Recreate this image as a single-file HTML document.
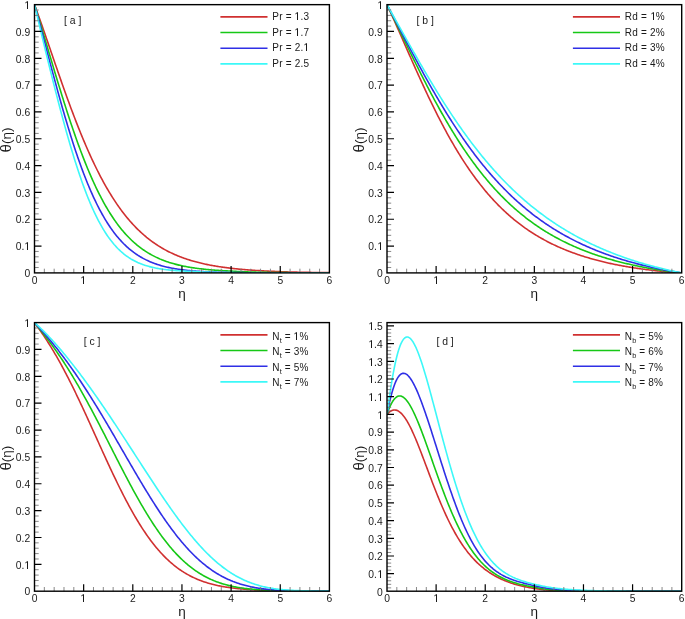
<!DOCTYPE html>
<html><head><meta charset="utf-8"><style>
html,body{margin:0;padding:0;background:#fff;}
svg{display:block;}
text{font-family:"Liberation Sans", sans-serif;fill:#1a1a1a;}
.t{font-size:10.3px;}
.lg{font-size:10px;letter-spacing:0.2px;}
.sub{font-size:7.4px;letter-spacing:0;}
.pl{font-size:10.4px;}
.ax{font-size:13.5px;}
.o1{fill:none;}
</style></head><body>
<svg width="685" height="619" viewBox="0 0 685 619" style="will-change:transform">
<rect width="685" height="619" fill="#fff"/>
<clipPath id="clipA"><rect x="34.5" y="4.65" width="294.9" height="268.25"/></clipPath>
<polyline clip-path="url(#clipA)" points="34.50,4.65 35.48,7.32 36.47,10.01 37.45,12.73 38.43,15.47 39.41,18.22 40.40,20.99 41.38,23.78 42.36,26.59 43.35,29.40 44.33,32.23 45.31,35.07 46.30,37.91 47.28,40.77 48.26,43.62 49.24,46.48 50.23,49.35 51.21,52.21 52.19,55.07 53.18,57.94 54.16,60.80 55.14,63.65 56.13,66.50 57.11,69.34 58.09,72.18 59.08,75.01 60.06,77.82 61.04,80.63 62.02,83.43 63.01,86.21 63.99,88.98 64.97,91.73 65.96,94.47 66.94,97.19 67.92,99.90 68.91,102.59 69.89,105.26 70.87,107.91 71.85,110.54 72.84,113.15 73.82,115.74 74.80,118.30 75.79,120.85 76.77,123.37 77.75,125.87 78.73,128.35 79.72,130.80 80.70,133.23 81.68,135.63 82.67,138.01 83.65,140.36 84.63,142.68 85.62,144.99 86.60,147.26 87.58,149.51 88.56,151.73 89.55,153.92 90.53,156.09 91.51,158.23 92.50,160.34 93.48,162.43 94.46,164.49 95.45,166.52 96.43,168.52 97.41,170.49 98.40,172.44 99.38,174.36 100.36,176.26 101.34,178.12 102.33,179.96 103.31,181.77 104.29,183.56 105.28,185.31 106.26,187.04 107.24,188.75 108.22,190.42 109.21,192.07 110.19,193.70 111.17,195.29 112.16,196.86 113.14,198.41 114.12,199.93 115.11,201.42 116.09,202.89 117.07,204.33 118.05,205.75 119.04,207.15 120.02,208.52 121.00,209.86 121.99,211.19 122.97,212.48 123.95,213.76 124.94,215.01 125.92,216.24 126.90,217.45 127.88,218.63 128.87,219.79 129.85,220.93 130.83,222.05 131.82,223.15 132.80,224.23 133.78,225.28 134.77,226.32 135.75,227.34 136.73,228.33 137.71,229.31 138.70,230.27 139.68,231.20 140.66,232.12 141.65,233.03 142.63,233.91 143.61,234.77 144.60,235.62 145.58,236.45 146.56,237.27 147.55,238.06 148.53,238.85 149.51,239.61 150.49,240.36 151.48,241.09 152.46,241.81 153.44,242.51 154.43,243.20 155.41,243.87 156.39,244.53 157.38,245.18 158.36,245.81 159.34,246.43 160.32,247.03 161.31,247.63 162.29,248.20 163.27,248.77 164.26,249.33 165.24,249.87 166.22,250.40 167.21,250.92 168.19,251.42 169.17,251.92 170.15,252.40 171.14,252.88 172.12,253.34 173.10,253.80 174.09,254.24 175.07,254.67 176.05,255.10 177.03,255.51 178.02,255.92 179.00,256.31 179.98,256.70 180.97,257.08 181.95,257.45 182.93,257.81 183.92,258.16 184.90,258.51 185.88,258.85 186.86,259.18 187.85,259.50 188.83,259.81 189.81,260.12 190.80,260.42 191.78,260.72 192.76,261.00 193.75,261.28 194.73,261.56 195.71,261.83 196.69,262.09 197.68,262.34 198.66,262.59 199.64,262.84 200.63,263.07 201.61,263.31 202.59,263.53 203.58,263.76 204.56,263.97 205.54,264.19 206.52,264.39 207.51,264.60 208.49,264.79 209.47,264.99 210.46,265.17 211.44,265.36 212.42,265.54 213.41,265.71 214.39,265.89 215.37,266.05 216.35,266.22 217.34,266.38 218.32,266.53 219.30,266.69 220.29,266.83 221.27,266.98 222.25,267.12 223.24,267.26 224.22,267.40 225.20,267.53 226.18,267.66 227.17,267.79 228.15,267.91 229.13,268.03 230.12,268.15 231.10,268.26 232.08,268.38 233.07,268.49 234.05,268.59 235.03,268.70 236.01,268.80 237.00,268.90 237.98,269.00 238.96,269.09 239.95,269.19 240.93,269.28 241.91,269.37 242.90,269.46 243.88,269.54 244.86,269.62 245.84,269.71 246.83,269.78 247.81,269.86 248.79,269.94 249.78,270.01 250.76,270.09 251.74,270.16 252.73,270.23 253.71,270.29 254.69,270.36 255.67,270.43 256.66,270.49 257.64,270.55 258.62,270.61 259.61,270.67 260.59,270.73 261.57,270.79 262.56,270.84 263.54,270.90 264.52,270.95 265.50,271.00 266.49,271.05 267.47,271.10 268.45,271.15 269.44,271.20 270.42,271.24 271.40,271.29 272.39,271.33 273.37,271.38 274.35,271.42 275.34,271.46 276.32,271.50 277.30,271.54 278.28,271.58 279.27,271.62 280.25,271.66 281.23,271.70 282.22,271.73 283.20,271.77 284.18,271.80 285.16,271.84 286.15,271.87 287.13,271.90 288.11,271.93 289.10,271.96 290.08,271.99 291.06,272.02 292.05,272.04 293.03,272.07 294.01,272.09 294.99,272.12 295.98,272.14 296.96,272.17 297.94,272.19 298.93,272.21 299.91,272.23 300.89,272.25 301.88,272.27 302.86,272.29 303.84,272.31 304.82,272.33 305.81,272.34 306.79,272.36 307.77,272.38 308.76,272.39 309.74,272.41 310.72,272.42 311.71,272.44 312.69,272.45 313.67,272.47 314.65,272.48 315.64,272.49 316.62,272.50 317.60,272.52 318.59,272.53 319.57,272.54 320.55,272.55 321.54,272.56 322.52,272.57 323.50,272.58 324.49,272.59 325.47,272.60 326.45,272.61 327.43,272.62 328.42,272.63 329.40,272.63" fill="none" stroke="#d03030" stroke-width="1.6" stroke-linejoin="round"/>
<polyline clip-path="url(#clipA)" points="34.50,4.65 35.48,7.80 36.47,10.97 37.45,14.17 38.43,17.38 39.41,20.61 40.40,23.86 41.38,27.12 42.36,30.39 43.35,33.67 44.33,36.95 45.31,40.25 46.30,43.55 47.28,46.85 48.26,50.15 49.24,53.46 50.23,56.76 51.21,60.05 52.19,63.35 53.18,66.63 54.16,69.91 55.14,73.18 56.13,76.43 57.11,79.68 58.09,82.91 59.08,86.13 60.06,89.33 61.04,92.51 62.02,95.67 63.01,98.81 63.99,101.94 64.97,105.04 65.96,108.12 66.94,111.17 67.92,114.20 68.91,117.20 69.89,120.18 70.87,123.13 71.85,126.05 72.84,128.94 73.82,131.80 74.80,134.63 75.79,137.43 76.77,140.20 77.75,142.94 78.73,145.64 79.72,148.31 80.70,150.95 81.68,153.55 82.67,156.12 83.65,158.65 84.63,161.15 85.62,163.61 86.60,166.04 87.58,168.43 88.56,170.78 89.55,173.10 90.53,175.39 91.51,177.63 92.50,179.84 93.48,182.01 94.46,184.15 95.45,186.25 96.43,188.32 97.41,190.34 98.40,192.34 99.38,194.29 100.36,196.21 101.34,198.10 102.33,199.95 103.31,201.76 104.29,203.54 105.28,205.28 106.26,206.99 107.24,208.67 108.22,210.31 109.21,211.91 110.19,213.49 111.17,215.03 112.16,216.54 113.14,218.01 114.12,219.46 115.11,220.87 116.09,222.25 117.07,223.60 118.05,224.92 119.04,226.21 120.02,227.47 121.00,228.70 121.99,229.91 122.97,231.08 123.95,232.23 124.94,233.35 125.92,234.44 126.90,235.51 127.88,236.55 128.87,237.56 129.85,238.55 130.83,239.52 131.82,240.46 132.80,241.37 133.78,242.27 134.77,243.14 135.75,243.98 136.73,244.81 137.71,245.61 138.70,246.40 139.68,247.16 140.66,247.90 141.65,248.62 142.63,249.33 143.61,250.01 144.60,250.68 145.58,251.32 146.56,251.95 147.55,252.56 148.53,253.16 149.51,253.74 150.49,254.30 151.48,254.85 152.46,255.38 153.44,255.89 154.43,256.40 155.41,256.88 156.39,257.36 157.38,257.82 158.36,258.26 159.34,258.69 160.32,259.12 161.31,259.52 162.29,259.92 163.27,260.31 164.26,260.68 165.24,261.04 166.22,261.39 167.21,261.73 168.19,262.06 169.17,262.39 170.15,262.70 171.14,263.00 172.12,263.29 173.10,263.58 174.09,263.85 175.07,264.12 176.05,264.38 177.03,264.63 178.02,264.87 179.00,265.11 179.98,265.34 180.97,265.56 181.95,265.77 182.93,265.98 183.92,266.18 184.90,266.38 185.88,266.57 186.86,266.75 187.85,266.93 188.83,267.10 189.81,267.27 190.80,267.43 191.78,267.59 192.76,267.74 193.75,267.89 194.73,268.03 195.71,268.17 196.69,268.30 197.68,268.43 198.66,268.56 199.64,268.68 200.63,268.80 201.61,268.91 202.59,269.02 203.58,269.13 204.56,269.23 205.54,269.33 206.52,269.43 207.51,269.52 208.49,269.62 209.47,269.70 210.46,269.79 211.44,269.87 212.42,269.95 213.41,270.03 214.39,270.11 215.37,270.18 216.35,270.25 217.34,270.32 218.32,270.38 219.30,270.45 220.29,270.51 221.27,270.57 222.25,270.63 223.24,270.68 224.22,270.74 225.20,270.79 226.18,270.84 227.17,270.89 228.15,270.94 229.13,270.99 230.12,271.03 231.10,271.08 232.08,271.14 233.07,271.20 234.05,271.26 235.03,271.32 236.01,271.38 237.00,271.43 237.98,271.48 238.96,271.53 239.95,271.58 240.93,271.63 241.91,271.67 242.90,271.72 243.88,271.76 244.86,271.80 245.84,271.84 246.83,271.88 247.81,271.91 248.79,271.95 249.78,271.98 250.76,272.01 251.74,272.04 252.73,272.07 253.71,272.10 254.69,272.13 255.67,272.16 256.66,272.18 257.64,272.21 258.62,272.23 259.61,272.26 260.59,272.28 261.57,272.30 262.56,272.32 263.54,272.34 264.52,272.36 265.50,272.38 266.49,272.40 267.47,272.42 268.45,272.44 269.44,272.45 270.42,272.47 271.40,272.48 272.39,272.50 273.37,272.51 274.35,272.53 275.34,272.54 276.32,272.55 277.30,272.56 278.28,272.58 279.27,272.59 280.25,272.60 281.23,272.61 282.22,272.62 283.20,272.63 284.18,272.64 285.16,272.65 286.15,272.66 287.13,272.67 288.11,272.67 289.10,272.68 290.08,272.69 291.06,272.70 292.05,272.70 293.03,272.71 294.01,272.72 294.99,272.72 295.98,272.73 296.96,272.74 297.94,272.74 298.93,272.75 299.91,272.75 300.89,272.76 301.88,272.76 302.86,272.77 303.84,272.77 304.82,272.78 305.81,272.78 306.79,272.79 307.77,272.79 308.76,272.79 309.74,272.80 310.72,272.80 311.71,272.80 312.69,272.81 313.67,272.81 314.65,272.81 315.64,272.82 316.62,272.82 317.60,272.82 318.59,272.83 319.57,272.83 320.55,272.83 321.54,272.83 322.52,272.84 323.50,272.84 324.49,272.84 325.47,272.84 326.45,272.84 327.43,272.85 328.42,272.85 329.40,272.85" fill="none" stroke="#16c816" stroke-width="1.6" stroke-linejoin="round"/>
<polyline clip-path="url(#clipA)" points="34.50,4.65 35.48,8.20 36.47,11.78 37.45,15.39 38.43,19.01 39.41,22.66 40.40,26.32 41.38,30.00 42.36,33.69 43.35,37.39 44.33,41.10 45.31,44.81 46.30,48.52 47.28,52.23 48.26,55.94 49.24,59.64 50.23,63.34 51.21,67.03 52.19,70.71 53.18,74.37 54.16,78.02 55.14,81.66 56.13,85.27 57.11,88.86 58.09,92.44 59.08,95.98 60.06,99.51 61.04,103.00 62.02,106.47 63.01,109.91 63.99,113.31 64.97,116.69 65.96,120.03 66.94,123.34 67.92,126.61 68.91,129.84 69.89,133.04 70.87,136.20 71.85,139.32 72.84,142.40 73.82,145.44 74.80,148.44 75.79,151.39 76.77,154.30 77.75,157.17 78.73,160.00 79.72,162.78 80.70,165.52 81.68,168.22 82.67,170.87 83.65,173.47 84.63,176.03 85.62,178.55 86.60,181.02 87.58,183.44 88.56,185.82 89.55,188.16 90.53,190.45 91.51,192.69 92.50,194.89 93.48,197.05 94.46,199.16 95.45,201.22 96.43,203.25 97.41,205.23 98.40,207.17 99.38,209.06 100.36,210.91 101.34,212.72 102.33,214.49 103.31,216.22 104.29,217.91 105.28,219.56 106.26,221.16 107.24,222.73 108.22,224.26 109.21,225.75 110.19,227.21 111.17,228.63 112.16,230.01 113.14,231.36 114.12,232.67 115.11,233.94 116.09,235.19 117.07,236.40 118.05,237.57 119.04,238.72 120.02,239.83 121.00,240.91 121.99,241.96 122.97,242.98 123.95,243.98 124.94,244.94 125.92,245.88 126.90,246.79 127.88,247.67 128.87,248.53 129.85,249.36 130.83,250.16 131.82,250.95 132.80,251.70 133.78,252.44 134.77,253.15 135.75,253.84 136.73,254.51 137.71,255.16 138.70,255.78 139.68,256.39 140.66,256.98 141.65,257.55 142.63,258.10 143.61,258.63 144.60,259.14 145.58,259.64 146.56,260.12 147.55,260.59 148.53,261.04 149.51,261.48 150.49,261.90 151.48,262.30 152.46,262.69 153.44,263.07 154.43,263.44 155.41,263.79 156.39,264.13 157.38,264.46 158.36,264.78 159.34,265.09 160.32,265.38 161.31,265.67 162.29,265.94 163.27,266.21 164.26,266.46 165.24,266.71 166.22,266.95 167.21,267.18 168.19,267.40 169.17,267.61 170.15,267.81 171.14,268.01 172.12,268.20 173.10,268.38 174.09,268.56 175.07,268.73 176.05,268.89 177.03,269.05 178.02,269.20 179.00,269.35 179.98,269.49 180.97,269.62 181.95,269.75 182.93,269.88 183.92,270.00 184.90,270.11 185.88,270.22 186.86,270.33 187.85,270.43 188.83,270.53 189.81,270.62 190.80,270.71 191.78,270.80 192.76,270.89 193.75,270.97 194.73,271.04 195.71,271.12 196.69,271.19 197.68,271.26 198.66,271.33 199.64,271.40 200.63,271.46 201.61,271.52 202.59,271.57 203.58,271.63 204.56,271.68 205.54,271.73 206.52,271.78 207.51,271.82 208.49,271.87 209.47,271.91 210.46,271.95 211.44,271.99 212.42,272.03 213.41,272.06 214.39,272.10 215.37,272.13 216.35,272.16 217.34,272.19 218.32,272.22 219.30,272.25 220.29,272.28 221.27,272.30 222.25,272.33 223.24,272.35 224.22,272.37 225.20,272.40 226.18,272.42 227.17,272.44 228.15,272.45 229.13,272.47 230.12,272.49 231.10,272.51 232.08,272.52 233.07,272.54 234.05,272.55 235.03,272.57 236.01,272.58 237.00,272.60 237.98,272.61 238.96,272.62 239.95,272.63 240.93,272.64 241.91,272.65 242.90,272.66 243.88,272.67 244.86,272.68 245.84,272.69 246.83,272.70 247.81,272.71 248.79,272.72 249.78,272.72 250.76,272.73 251.74,272.74 252.73,272.74 253.71,272.75 254.69,272.76 255.67,272.76 256.66,272.77 257.64,272.77 258.62,272.78 259.61,272.78 260.59,272.79 261.57,272.79 262.56,272.80 263.54,272.80 264.52,272.81 265.50,272.81 266.49,272.81 267.47,272.82 268.45,272.82 269.44,272.82 270.42,272.83 271.40,272.83 272.39,272.83 273.37,272.84 274.35,272.84 275.34,272.84 276.32,272.84 277.30,272.85 278.28,272.85 279.27,272.85 280.25,272.85 281.23,272.85 282.22,272.86 283.20,272.86 284.18,272.86 285.16,272.86 286.15,272.86 287.13,272.86 288.11,272.87 289.10,272.87 290.08,272.87 291.06,272.87 292.05,272.87 293.03,272.87 294.01,272.87 294.99,272.87 295.98,272.88 296.96,272.88 297.94,272.88 298.93,272.88 299.91,272.88 300.89,272.88 301.88,272.88 302.86,272.88 303.84,272.88 304.82,272.88 305.81,272.88 306.79,272.88 307.77,272.89 308.76,272.89 309.74,272.89 310.72,272.89 311.71,272.89 312.69,272.89 313.67,272.89 314.65,272.89 315.64,272.89 316.62,272.89 317.60,272.89 318.59,272.89 319.57,272.89 320.55,272.89 321.54,272.89 322.52,272.89 323.50,272.89 324.49,272.89 325.47,272.89 326.45,272.89 327.43,272.89 328.42,272.89 329.40,272.89" fill="none" stroke="#2f2fe6" stroke-width="1.6" stroke-linejoin="round"/>
<polyline clip-path="url(#clipA)" points="34.50,4.65 35.48,8.84 36.47,13.01 37.45,17.17 38.43,21.31 39.41,25.44 40.40,29.56 41.38,33.66 42.36,37.75 43.35,41.83 44.33,45.89 45.31,49.94 46.30,53.98 47.28,57.99 48.26,62.00 49.24,65.98 50.23,69.95 51.21,73.90 52.19,77.83 53.18,81.74 54.16,85.63 55.14,89.50 56.13,93.34 57.11,97.15 58.09,100.95 59.08,104.71 60.06,108.44 61.04,112.15 62.02,115.82 63.01,119.46 63.99,123.07 64.97,126.64 65.96,130.18 66.94,133.68 67.92,137.14 68.91,140.56 69.89,143.94 70.87,147.27 71.85,150.56 72.84,153.81 73.82,157.02 74.80,160.17 75.79,163.28 76.77,166.35 77.75,169.36 78.73,172.32 79.72,175.24 80.70,178.10 81.68,180.91 82.67,183.67 83.65,186.37 84.63,189.03 85.62,191.63 86.60,194.17 87.58,196.67 88.56,199.11 89.55,201.49 90.53,203.82 91.51,206.10 92.50,208.32 93.48,210.49 94.46,212.61 95.45,214.67 96.43,216.69 97.41,218.64 98.40,220.55 99.38,222.40 100.36,224.21 101.34,225.96 102.33,227.66 103.31,229.32 104.29,230.92 105.28,232.48 106.26,233.99 107.24,235.45 108.22,236.87 109.21,238.24 110.19,239.57 111.17,240.86 112.16,242.10 113.14,243.30 114.12,244.46 115.11,245.58 116.09,246.66 117.07,247.71 118.05,248.72 119.04,249.69 120.02,250.62 121.00,251.52 121.99,252.39 122.97,253.23 123.95,254.03 124.94,254.81 125.92,255.55 126.90,256.27 127.88,256.95 128.87,257.61 129.85,258.25 130.83,258.86 131.82,259.44 132.80,260.00 133.78,260.54 134.77,261.06 135.75,261.55 136.73,262.02 137.71,262.48 138.70,262.91 139.68,263.33 140.66,263.73 141.65,264.11 142.63,264.47 143.61,264.82 144.60,265.16 145.58,265.48 146.56,265.78 147.55,266.07 148.53,266.35 149.51,266.62 150.49,266.87 151.48,267.12 152.46,267.35 153.44,267.57 154.43,267.78 155.41,267.98 156.39,268.18 157.38,268.36 158.36,268.54 159.34,268.70 160.32,268.86 161.31,269.02 162.29,269.16 163.27,269.30 164.26,269.43 165.24,269.56 166.22,269.68 167.21,269.79 168.19,269.90 169.17,270.00 170.15,270.10 171.14,270.20 172.12,270.29 173.10,270.37 174.09,270.45 175.07,270.53 176.05,270.60 177.03,270.67 178.02,270.74 179.00,270.80 179.98,270.86 180.97,270.92 181.95,270.97 182.93,271.02 183.92,271.07 184.90,271.11 185.88,271.16 186.86,271.20 187.85,271.23 188.83,271.27 189.81,271.30 190.80,271.34 191.78,271.36 192.76,271.39 193.75,271.42 194.73,271.44 195.71,271.50 196.69,271.56 197.68,271.62 198.66,271.68 199.64,271.74 200.63,271.80 201.61,271.85 202.59,271.90 203.58,271.94 204.56,271.99 205.54,272.03 206.52,272.07 207.51,272.11 208.49,272.15 209.47,272.18 210.46,272.22 211.44,272.25 212.42,272.28 213.41,272.31 214.39,272.34 215.37,272.36 216.35,272.39 217.34,272.41 218.32,272.43 219.30,272.46 220.29,272.48 221.27,272.50 222.25,272.52 223.24,272.53 224.22,272.55 225.20,272.57 226.18,272.58 227.17,272.60 228.15,272.61 229.13,272.63 230.12,272.64 231.10,272.65 232.08,272.66 233.07,272.67 234.05,272.68 235.03,272.69 236.01,272.70 237.00,272.71 237.98,272.72 238.96,272.73 239.95,272.74 240.93,272.75 241.91,272.75 242.90,272.76 243.88,272.77 244.86,272.77 245.84,272.78 246.83,272.78 247.81,272.79 248.79,272.79 249.78,272.80 250.76,272.80 251.74,272.81 252.73,272.81 253.71,272.82 254.69,272.82 255.67,272.82 256.66,272.83 257.64,272.83 258.62,272.83 259.61,272.84 260.59,272.84 261.57,272.84 262.56,272.85 263.54,272.85 264.52,272.85 265.50,272.85 266.49,272.86 267.47,272.86 268.45,272.86 269.44,272.86 270.42,272.86 271.40,272.87 272.39,272.87 273.37,272.87 274.35,272.87 275.34,272.87 276.32,272.87 277.30,272.87 278.28,272.88 279.27,272.88 280.25,272.88 281.23,272.88 282.22,272.88 283.20,272.88 284.18,272.88 285.16,272.88 286.15,272.88 287.13,272.88 288.11,272.88 289.10,272.89 290.08,272.89 291.06,272.89 292.05,272.89 293.03,272.89 294.01,272.89 294.99,272.89 295.98,272.89 296.96,272.89 297.94,272.89 298.93,272.89 299.91,272.89 300.89,272.89 301.88,272.89 302.86,272.89 303.84,272.89 304.82,272.89 305.81,272.89 306.79,272.89 307.77,272.89 308.76,272.89 309.74,272.89 310.72,272.89 311.71,272.90 312.69,272.90 313.67,272.90 314.65,272.90 315.64,272.90 316.62,272.90 317.60,272.90 318.59,272.90 319.57,272.90 320.55,272.90 321.54,272.90 322.52,272.90 323.50,272.90 324.49,272.90 325.47,272.90 326.45,272.90 327.43,272.90 328.42,272.90 329.40,272.90" fill="none" stroke="#3cf8f8" stroke-width="1.6" stroke-linejoin="round"/>
<path d="M34.5,267.53h4.2 M34.5,262.17h4.2 M34.5,256.80h4.2 M34.5,251.44h4.2 M34.5,240.71h4.2 M34.5,235.34h4.2 M34.5,229.98h4.2 M34.5,224.61h4.2 M34.5,213.88h4.2 M34.5,208.52h4.2 M34.5,203.15h4.2 M34.5,197.79h4.2 M34.5,187.06h4.2 M34.5,181.69h4.2 M34.5,176.33h4.2 M34.5,170.96h4.2 M34.5,160.23h4.2 M34.5,154.87h4.2 M34.5,149.50h4.2 M34.5,144.14h4.2 M34.5,133.41h4.2 M34.5,128.04h4.2 M34.5,122.68h4.2 M34.5,117.31h4.2 M34.5,106.58h4.2 M34.5,101.22h4.2 M34.5,95.85h4.2 M34.5,90.49h4.2 M34.5,79.76h4.2 M34.5,74.39h4.2 M34.5,69.03h4.2 M34.5,63.66h4.2 M34.5,52.93h4.2 M34.5,47.57h4.2 M34.5,42.20h4.2 M34.5,36.84h4.2 M34.5,26.11h4.2 M34.5,20.74h4.2 M34.5,15.38h4.2 M34.5,10.01h4.2 M44.33,272.9v-4.2 M54.16,272.9v-4.2 M63.99,272.9v-4.2 M73.82,272.9v-4.2 M93.48,272.9v-4.2 M103.31,272.9v-4.2 M113.14,272.9v-4.2 M122.97,272.9v-4.2 M142.63,272.9v-4.2 M152.46,272.9v-4.2 M162.29,272.9v-4.2 M172.12,272.9v-4.2 M191.78,272.9v-4.2 M201.61,272.9v-4.2 M211.44,272.9v-4.2 M221.27,272.9v-4.2 M240.93,272.9v-4.2 M250.76,272.9v-4.2 M260.59,272.9v-4.2 M270.42,272.9v-4.2 M290.08,272.9v-4.2 M299.91,272.9v-4.2 M309.74,272.9v-4.2 M319.57,272.9v-4.2" stroke="#7a7a7a" stroke-width="0.9" fill="none"/>
<path d="M34.5,246.07h7.0 M34.5,219.25h7.0 M34.5,192.42h7.0 M34.5,165.60h7.0 M34.5,138.77h7.0 M34.5,111.95h7.0 M34.5,85.12h7.0 M34.5,58.30h7.0 M34.5,31.47h7.0 M83.65,272.9v-7.0 M132.80,272.9v-7.0 M181.95,272.9v-7.0 M231.10,272.9v-7.0 M280.25,272.9v-7.0" stroke="#000" stroke-width="1.2" fill="none"/>
<rect x="34.5" y="4.65" width="294.9" height="268.25" fill="none" stroke="#000" stroke-width="1.4"/>
<text x="30.20" y="277.10" text-anchor="end" class="t">0</text>
<text x="30.20" y="250.27" text-anchor="end" class="t">0.<tspan class="o1">1</tspan></text>
<text x="30.20" y="223.45" text-anchor="end" class="t">0.2</text>
<text x="30.20" y="196.62" text-anchor="end" class="t">0.3</text>
<text x="30.20" y="169.80" text-anchor="end" class="t">0.4</text>
<text x="30.20" y="142.97" text-anchor="end" class="t">0.5</text>
<text x="30.20" y="116.15" text-anchor="end" class="t">0.6</text>
<text x="30.20" y="89.33" text-anchor="end" class="t">0.7</text>
<text x="30.20" y="62.50" text-anchor="end" class="t">0.8</text>
<text x="30.20" y="35.67" text-anchor="end" class="t">0.9</text>
<text x="30.20" y="8.85" text-anchor="end" class="t"><tspan class="o1">1</tspan></text>
<text x="34.50" y="284.00" text-anchor="middle" class="t">0</text>
<text x="83.65" y="284.00" text-anchor="middle" class="t"><tspan class="o1">1</tspan></text>
<text x="132.80" y="284.00" text-anchor="middle" class="t">2</text>
<text x="181.95" y="284.00" text-anchor="middle" class="t">3</text>
<text x="231.10" y="284.00" text-anchor="middle" class="t">4</text>
<text x="280.25" y="284.00" text-anchor="middle" class="t">5</text>
<text x="329.40" y="284.00" text-anchor="middle" class="t">6</text>
<text x="181.95" y="297.50" text-anchor="middle" class="ax">η</text>
<text transform="translate(11.20,139.97) rotate(-90)" text-anchor="middle" class="ax"><tspan style="font-size:15px">θ</tspan>(η)</text>
<clipPath id="clipB"><rect x="387.0" y="4.65" width="294.70000000000005" height="268.25"/></clipPath>
<polyline clip-path="url(#clipB)" points="387.00,4.65 387.98,6.77 388.96,8.90 389.95,11.04 390.93,13.20 391.91,15.37 392.89,17.55 393.88,19.73 394.86,21.93 395.84,24.13 396.82,26.34 397.81,28.56 398.79,30.78 399.77,33.00 400.75,35.23 401.74,37.46 402.72,39.69 403.70,41.93 404.68,44.16 405.66,46.39 406.65,48.63 407.63,50.86 408.61,53.08 409.59,55.31 410.58,57.53 411.56,59.75 412.54,61.96 413.52,64.17 414.51,66.37 415.49,68.56 416.47,70.75 417.45,72.93 418.43,75.10 419.42,77.27 420.40,79.42 421.38,81.57 422.36,83.70 423.35,85.83 424.33,87.94 425.31,90.05 426.29,92.14 427.28,94.22 428.26,96.29 429.24,98.35 430.22,100.40 431.21,102.43 432.19,104.45 433.17,106.45 434.15,108.44 435.13,110.42 436.12,112.39 437.10,114.34 438.08,116.27 439.06,118.19 440.05,120.10 441.03,121.99 442.01,123.87 442.99,125.73 443.98,127.57 444.96,129.40 445.94,131.22 446.92,133.02 447.90,134.80 448.89,136.56 449.87,138.32 450.85,140.05 451.83,141.77 452.82,143.47 453.80,145.16 454.78,146.83 455.76,148.48 456.75,150.12 457.73,151.74 458.71,153.35 459.69,154.94 460.68,156.51 461.66,158.07 462.64,159.61 463.62,161.13 464.60,162.64 465.59,164.13 466.57,165.61 467.55,167.07 468.53,168.51 469.52,169.94 470.50,171.35 471.48,172.75 472.46,174.13 473.45,175.49 474.43,176.84 475.41,178.18 476.39,179.49 477.37,180.80 478.36,182.09 479.34,183.36 480.32,184.62 481.30,185.86 482.29,187.09 483.27,188.30 484.25,189.50 485.23,190.69 486.22,191.86 487.20,193.01 488.18,194.15 489.16,195.28 490.15,196.40 491.13,197.50 492.11,198.58 493.09,199.66 494.07,200.72 495.06,201.76 496.04,202.79 497.02,203.81 498.00,204.82 498.99,205.82 499.97,206.80 500.95,207.77 501.93,208.72 502.92,209.67 503.90,210.60 504.88,211.52 505.86,212.43 506.84,213.32 507.83,214.21 508.81,215.08 509.79,215.94 510.77,216.79 511.76,217.63 512.74,218.46 513.72,219.28 514.70,220.08 515.69,220.88 516.67,221.66 517.65,222.44 518.63,223.20 519.62,223.96 520.60,224.70 521.58,225.44 522.56,226.16 523.54,226.87 524.53,227.58 525.51,228.28 526.49,228.96 527.47,229.64 528.46,230.31 529.44,230.97 530.42,231.62 531.40,232.26 532.39,232.89 533.37,233.52 534.35,234.13 535.33,234.74 536.31,235.34 537.30,235.93 538.28,236.52 539.26,237.09 540.24,237.66 541.23,238.22 542.21,238.77 543.19,239.32 544.17,239.86 545.16,240.39 546.14,240.91 547.12,241.43 548.10,241.94 549.09,242.44 550.07,242.93 551.05,243.42 552.03,243.91 553.01,244.38 554.00,244.85 554.98,245.31 555.96,245.77 556.94,246.22 557.93,246.67 558.91,247.11 559.89,247.54 560.87,247.96 561.86,248.39 562.84,248.80 563.82,249.21 564.80,249.62 565.78,250.02 566.77,250.41 567.75,250.80 568.73,251.18 569.71,251.56 570.70,251.93 571.68,252.30 572.66,252.66 573.64,253.02 574.63,253.37 575.61,253.72 576.59,254.07 577.57,254.41 578.56,254.74 579.54,255.07 580.52,255.40 581.50,255.72 582.48,256.04 583.47,256.35 584.45,256.66 585.43,256.96 586.41,257.26 587.40,257.56 588.38,257.85 589.36,258.14 590.34,258.42 591.33,258.71 592.31,258.98 593.29,259.26 594.27,259.53 595.25,259.79 596.24,260.06 597.22,260.31 598.20,260.57 599.18,260.82 600.17,261.07 601.15,261.32 602.13,261.56 603.11,261.80 604.10,262.03 605.08,262.27 606.06,262.50 607.04,262.72 608.02,262.95 609.01,263.17 609.99,263.38 610.97,263.60 611.95,263.81 612.94,264.02 613.92,264.22 614.90,264.43 615.88,264.63 616.87,264.82 617.85,265.02 618.83,265.21 619.81,265.40 620.80,265.58 621.78,265.77 622.76,265.95 623.74,266.13 624.72,266.30 625.71,266.48 626.69,266.65 627.67,266.82 628.65,266.98 629.64,267.15 630.62,267.31 631.60,267.47 632.58,267.63 633.57,267.78 634.55,267.93 635.53,268.08 636.51,268.23 637.50,268.37 638.48,268.52 639.46,268.66 640.44,268.80 641.42,268.94 642.41,269.07 643.39,269.20 644.37,269.33 645.35,269.46 646.34,269.59 647.32,269.71 648.30,269.83 649.28,269.95 650.27,270.07 651.25,270.19 652.23,270.30 653.21,270.42 654.19,270.53 655.18,270.64 656.16,270.74 657.14,270.85 658.12,270.95 659.11,271.05 660.09,271.15 661.07,271.25 662.05,271.34 663.04,271.44 664.02,271.53 665.00,271.62 665.98,271.71 666.97,271.80 667.95,271.88 668.93,271.96 669.91,272.05 670.89,272.13 671.88,272.21 672.86,272.28 673.84,272.36 674.82,272.43 675.81,272.50 676.79,272.57 677.77,272.64 678.75,272.71 679.74,272.77 680.72,272.84 681.70,272.90" fill="none" stroke="#d03030" stroke-width="1.6" stroke-linejoin="round"/>
<polyline clip-path="url(#clipB)" points="387.00,4.65 387.98,6.63 388.96,8.62 389.95,10.61 390.93,12.61 391.91,14.62 392.89,16.63 393.88,18.64 394.86,20.66 395.84,22.68 396.82,24.70 397.81,26.73 398.79,28.76 399.77,30.78 400.75,32.81 401.74,34.84 402.72,36.87 403.70,38.90 404.68,40.92 405.66,42.95 406.65,44.97 407.63,46.99 408.61,49.00 409.59,51.02 410.58,53.03 411.56,55.03 412.54,57.03 413.52,59.03 414.51,61.02 415.49,63.00 416.47,64.98 417.45,66.95 418.43,68.92 419.42,70.88 420.40,72.83 421.38,74.78 422.36,76.71 423.35,78.64 424.33,80.57 425.31,82.48 426.29,84.38 427.28,86.28 428.26,88.16 429.24,90.04 430.22,91.91 431.21,93.76 432.19,95.61 433.17,97.45 434.15,99.28 435.13,101.09 436.12,102.90 437.10,104.69 438.08,106.48 439.06,108.25 440.05,110.01 441.03,111.76 442.01,113.50 442.99,115.23 443.98,116.95 444.96,118.65 445.94,120.34 446.92,122.02 447.90,123.69 448.89,125.35 449.87,126.99 450.85,128.62 451.83,130.24 452.82,131.85 453.80,133.44 454.78,135.03 455.76,136.60 456.75,138.15 457.73,139.70 458.71,141.23 459.69,142.75 460.68,144.26 461.66,145.75 462.64,147.23 463.62,148.70 464.60,150.16 465.59,151.60 466.57,153.03 467.55,154.45 468.53,155.86 469.52,157.25 470.50,158.63 471.48,160.00 472.46,161.35 473.45,162.70 474.43,164.03 475.41,165.35 476.39,166.65 477.37,167.95 478.36,169.23 479.34,170.50 480.32,171.75 481.30,173.00 482.29,174.23 483.27,175.45 484.25,176.66 485.23,177.86 486.22,179.04 487.20,180.21 488.18,181.37 489.16,182.52 490.15,183.66 491.13,184.79 492.11,185.90 493.09,187.00 494.07,188.10 495.06,189.18 496.04,190.25 497.02,191.30 498.00,192.35 498.99,193.39 499.97,194.41 500.95,195.43 501.93,196.43 502.92,197.42 503.90,198.41 504.88,199.38 505.86,200.34 506.84,201.29 507.83,202.23 508.81,203.16 509.79,204.08 510.77,204.99 511.76,205.89 512.74,206.78 513.72,207.67 514.70,208.54 515.69,209.40 516.67,210.25 517.65,211.09 518.63,211.93 519.62,212.75 520.60,213.57 521.58,214.37 522.56,215.17 523.54,215.96 524.53,216.74 525.51,217.51 526.49,218.27 527.47,219.02 528.46,219.77 529.44,220.50 530.42,221.23 531.40,221.95 532.39,222.66 533.37,223.37 534.35,224.06 535.33,224.75 536.31,225.43 537.30,226.10 538.28,226.77 539.26,227.42 540.24,228.07 541.23,228.71 542.21,229.35 543.19,229.97 544.17,230.59 545.16,231.21 546.14,231.81 547.12,232.41 548.10,233.00 549.09,233.59 550.07,234.17 551.05,234.74 552.03,235.30 553.01,235.86 554.00,236.42 554.98,236.96 555.96,237.50 556.94,238.03 557.93,238.56 558.91,239.08 559.89,239.60 560.87,240.11 561.86,240.61 562.84,241.11 563.82,241.60 564.80,242.08 565.78,242.56 566.77,243.04 567.75,243.51 568.73,243.97 569.71,244.43 570.70,244.88 571.68,245.33 572.66,245.77 573.64,246.21 574.63,246.64 575.61,247.07 576.59,247.49 577.57,247.91 578.56,248.32 579.54,248.73 580.52,249.14 581.50,249.53 582.48,249.93 583.47,250.32 584.45,250.70 585.43,251.08 586.41,251.46 587.40,251.83 588.38,252.20 589.36,252.56 590.34,252.92 591.33,253.27 592.31,253.63 593.29,253.97 594.27,254.31 595.25,254.65 596.24,254.99 597.22,255.32 598.20,255.65 599.18,255.97 600.17,256.29 601.15,256.60 602.13,256.92 603.11,257.22 604.10,257.53 605.08,257.83 606.06,258.13 607.04,258.42 608.02,258.71 609.01,259.00 609.99,259.29 610.97,259.57 611.95,259.84 612.94,260.12 613.92,260.39 614.90,260.66 615.88,260.92 616.87,261.18 617.85,261.44 618.83,261.70 619.81,261.95 620.80,262.20 621.78,262.45 622.76,262.69 623.74,262.93 624.72,263.17 625.71,263.41 626.69,263.64 627.67,263.87 628.65,264.09 629.64,264.32 630.62,264.54 631.60,264.76 632.58,264.98 633.57,265.19 634.55,265.40 635.53,265.61 636.51,265.82 637.50,266.02 638.48,266.22 639.46,266.42 640.44,266.61 641.42,266.81 642.41,267.00 643.39,267.19 644.37,267.38 645.35,267.56 646.34,267.74 647.32,267.92 648.30,268.10 649.28,268.27 650.27,268.45 651.25,268.62 652.23,268.79 653.21,268.95 654.19,269.12 655.18,269.28 656.16,269.44 657.14,269.60 658.12,269.75 659.11,269.91 660.09,270.06 661.07,270.21 662.05,270.35 663.04,270.50 664.02,270.64 665.00,270.78 665.98,270.92 666.97,271.06 667.95,271.20 668.93,271.33 669.91,271.46 670.89,271.59 671.88,271.72 672.86,271.85 673.84,271.97 674.82,272.09 675.81,272.21 676.79,272.33 677.77,272.45 678.75,272.57 679.74,272.68 680.72,272.79 681.70,272.90" fill="none" stroke="#16c816" stroke-width="1.6" stroke-linejoin="round"/>
<polyline clip-path="url(#clipB)" points="387.00,4.65 387.98,6.51 388.96,8.37 389.95,10.24 390.93,12.11 391.91,13.98 392.89,15.86 393.88,17.73 394.86,19.61 395.84,21.49 396.82,23.37 397.81,25.25 398.79,27.13 399.77,29.01 400.75,30.89 401.74,32.77 402.72,34.64 403.70,36.52 404.68,38.39 405.66,40.27 406.65,42.13 407.63,44.00 408.61,45.86 409.59,47.72 410.58,49.58 411.56,51.43 412.54,53.28 413.52,55.12 414.51,56.96 415.49,58.80 416.47,60.63 417.45,62.45 418.43,64.27 419.42,66.08 420.40,67.89 421.38,69.69 422.36,71.48 423.35,73.27 424.33,75.05 425.31,76.82 426.29,78.59 427.28,80.35 428.26,82.10 429.24,83.85 430.22,85.58 431.21,87.31 432.19,89.03 433.17,90.75 434.15,92.45 435.13,94.15 436.12,95.84 437.10,97.51 438.08,99.18 439.06,100.85 440.05,102.50 441.03,104.14 442.01,105.77 442.99,107.40 443.98,109.01 444.96,110.62 445.94,112.22 446.92,113.80 447.90,115.38 448.89,116.95 449.87,118.51 450.85,120.05 451.83,121.59 452.82,123.12 453.80,124.64 454.78,126.14 455.76,127.64 456.75,129.13 457.73,130.61 458.71,132.07 459.69,133.53 460.68,134.98 461.66,136.42 462.64,137.84 463.62,139.26 464.60,140.66 465.59,142.06 466.57,143.44 467.55,144.82 468.53,146.18 469.52,147.54 470.50,148.88 471.48,150.21 472.46,151.54 473.45,152.85 474.43,154.15 475.41,155.44 476.39,156.73 477.37,158.00 478.36,159.26 479.34,160.51 480.32,161.75 481.30,162.98 482.29,164.20 483.27,165.41 484.25,166.61 485.23,167.80 486.22,168.98 487.20,170.16 488.18,171.32 489.16,172.47 490.15,173.61 491.13,174.74 492.11,175.86 493.09,176.97 494.07,178.07 495.06,179.16 496.04,180.25 497.02,181.32 498.00,182.38 498.99,183.44 499.97,184.48 500.95,185.52 501.93,186.54 502.92,187.56 503.90,188.57 504.88,189.56 505.86,190.55 506.84,191.53 507.83,192.50 508.81,193.46 509.79,194.42 510.77,195.36 511.76,196.30 512.74,197.22 513.72,198.14 514.70,199.05 515.69,199.95 516.67,200.85 517.65,201.73 518.63,202.60 519.62,203.47 520.60,204.33 521.58,205.18 522.56,206.02 523.54,206.86 524.53,207.69 525.51,208.51 526.49,209.32 527.47,210.12 528.46,210.91 529.44,211.70 530.42,212.48 531.40,213.25 532.39,214.02 533.37,214.78 534.35,215.53 535.33,216.27 536.31,217.00 537.30,217.73 538.28,218.45 539.26,219.17 540.24,219.87 541.23,220.57 542.21,221.27 543.19,221.95 544.17,222.63 545.16,223.31 546.14,223.97 547.12,224.63 548.10,225.28 549.09,225.93 550.07,226.57 551.05,227.20 552.03,227.83 553.01,228.45 554.00,229.07 554.98,229.68 555.96,230.28 556.94,230.88 557.93,231.47 558.91,232.05 559.89,232.63 560.87,233.20 561.86,233.77 562.84,234.33 563.82,234.89 564.80,235.44 565.78,235.98 566.77,236.52 567.75,237.06 568.73,237.58 569.71,238.11 570.70,238.63 571.68,239.14 572.66,239.65 573.64,240.15 574.63,240.64 575.61,241.14 576.59,241.62 577.57,242.11 578.56,242.58 579.54,243.06 580.52,243.52 581.50,243.99 582.48,244.45 583.47,244.90 584.45,245.35 585.43,245.79 586.41,246.23 587.40,246.67 588.38,247.10 589.36,247.53 590.34,247.95 591.33,248.37 592.31,248.78 593.29,249.19 594.27,249.60 595.25,250.00 596.24,250.40 597.22,250.79 598.20,251.18 599.18,251.56 600.17,251.95 601.15,252.32 602.13,252.70 603.11,253.07 604.10,253.43 605.08,253.80 606.06,254.15 607.04,254.51 608.02,254.86 609.01,255.21 609.99,255.55 610.97,255.89 611.95,256.23 612.94,256.56 613.92,256.89 614.90,257.22 615.88,257.54 616.87,257.86 617.85,258.18 618.83,258.50 619.81,258.81 620.80,259.11 621.78,259.42 622.76,259.72 623.74,260.02 624.72,260.31 625.71,260.60 626.69,260.89 627.67,261.18 628.65,261.46 629.64,261.74 630.62,262.01 631.60,262.29 632.58,262.56 633.57,262.83 634.55,263.09 635.53,263.35 636.51,263.61 637.50,263.87 638.48,264.12 639.46,264.38 640.44,264.62 641.42,264.87 642.41,265.11 643.39,265.36 644.37,265.59 645.35,265.83 646.34,266.06 647.32,266.29 648.30,266.52 649.28,266.75 650.27,266.97 651.25,267.19 652.23,267.41 653.21,267.62 654.19,267.84 655.18,268.05 656.16,268.26 657.14,268.46 658.12,268.67 659.11,268.87 660.09,269.07 661.07,269.26 662.05,269.46 663.04,269.65 664.02,269.84 665.00,270.03 665.98,270.22 666.97,270.40 667.95,270.58 668.93,270.76 669.91,270.94 670.89,271.11 671.88,271.29 672.86,271.46 673.84,271.62 674.82,271.79 675.81,271.96 676.79,272.12 677.77,272.28 678.75,272.44 679.74,272.59 680.72,272.75 681.70,272.90" fill="none" stroke="#2f2fe6" stroke-width="1.6" stroke-linejoin="round"/>
<polyline clip-path="url(#clipB)" points="387.00,4.65 387.98,6.38 388.96,8.11 389.95,9.85 390.93,11.59 391.91,13.33 392.89,15.08 393.88,16.82 394.86,18.57 395.84,20.32 396.82,22.08 397.81,23.83 398.79,25.58 399.77,27.34 400.75,29.09 401.74,30.85 402.72,32.60 403.70,34.35 404.68,36.10 405.66,37.85 406.65,39.60 407.63,41.35 408.61,43.09 409.59,44.84 410.58,46.58 411.56,48.31 412.54,50.05 413.52,51.78 414.51,53.50 415.49,55.23 416.47,56.95 417.45,58.66 418.43,60.37 419.42,62.08 420.40,63.78 421.38,65.48 422.36,67.17 423.35,68.86 424.33,70.54 425.31,72.22 426.29,73.89 427.28,75.55 428.26,77.21 429.24,78.86 430.22,80.51 431.21,82.15 432.19,83.78 433.17,85.41 434.15,87.02 435.13,88.64 436.12,90.24 437.10,91.84 438.08,93.43 439.06,95.01 440.05,96.59 441.03,98.16 442.01,99.72 442.99,101.27 443.98,102.82 444.96,104.36 445.94,105.88 446.92,107.41 447.90,108.92 448.89,110.42 449.87,111.92 450.85,113.41 451.83,114.89 452.82,116.36 453.80,117.82 454.78,119.28 455.76,120.72 456.75,122.16 457.73,123.59 458.71,125.01 459.69,126.42 460.68,127.82 461.66,129.21 462.64,130.60 463.62,131.98 464.60,133.34 465.59,134.70 466.57,136.05 467.55,137.39 468.53,138.72 469.52,140.04 470.50,141.36 471.48,142.66 472.46,143.96 473.45,145.24 474.43,146.52 475.41,147.79 476.39,149.05 477.37,150.30 478.36,151.54 479.34,152.78 480.32,154.00 481.30,155.21 482.29,156.42 483.27,157.62 484.25,158.81 485.23,159.99 486.22,161.16 487.20,162.32 488.18,163.47 489.16,164.62 490.15,165.75 491.13,166.88 492.11,168.00 493.09,169.11 494.07,170.21 495.06,171.30 496.04,172.39 497.02,173.46 498.00,174.53 498.99,175.59 499.97,176.64 500.95,177.68 501.93,178.72 502.92,179.74 503.90,180.76 504.88,181.77 505.86,182.77 506.84,183.76 507.83,184.75 508.81,185.72 509.79,186.69 510.77,187.65 511.76,188.61 512.74,189.55 513.72,190.49 514.70,191.42 515.69,192.34 516.67,193.25 517.65,194.16 518.63,195.06 519.62,195.95 520.60,196.83 521.58,197.71 522.56,198.58 523.54,199.44 524.53,200.29 525.51,201.14 526.49,201.98 527.47,202.81 528.46,203.64 529.44,204.46 530.42,205.27 531.40,206.07 532.39,206.87 533.37,207.66 534.35,208.45 535.33,209.22 536.31,209.99 537.30,210.76 538.28,211.51 539.26,212.27 540.24,213.01 541.23,213.75 542.21,214.48 543.19,215.20 544.17,215.92 545.16,216.63 546.14,217.34 547.12,218.04 548.10,218.73 549.09,219.42 550.07,220.10 551.05,220.78 552.03,221.45 553.01,222.11 554.00,222.77 554.98,223.43 555.96,224.07 556.94,224.71 557.93,225.35 558.91,225.98 559.89,226.60 560.87,227.22 561.86,227.84 562.84,228.44 563.82,229.05 564.80,229.64 565.78,230.24 566.77,230.82 567.75,231.40 568.73,231.98 569.71,232.55 570.70,233.12 571.68,233.68 572.66,234.24 573.64,234.79 574.63,235.33 575.61,235.88 576.59,236.41 577.57,236.95 578.56,237.47 579.54,238.00 580.52,238.52 581.50,239.03 582.48,239.54 583.47,240.04 584.45,240.54 585.43,241.04 586.41,241.53 587.40,242.02 588.38,242.50 589.36,242.98 590.34,243.45 591.33,243.92 592.31,244.39 593.29,244.85 594.27,245.31 595.25,245.76 596.24,246.21 597.22,246.66 598.20,247.10 599.18,247.54 600.17,247.97 601.15,248.40 602.13,248.83 603.11,249.25 604.10,249.67 605.08,250.08 606.06,250.49 607.04,250.90 608.02,251.30 609.01,251.70 609.99,252.10 610.97,252.49 611.95,252.88 612.94,253.27 613.92,253.65 614.90,254.03 615.88,254.41 616.87,254.78 617.85,255.15 618.83,255.51 619.81,255.87 620.80,256.23 621.78,256.59 622.76,256.94 623.74,257.29 624.72,257.64 625.71,257.98 626.69,258.32 627.67,258.66 628.65,258.99 629.64,259.32 630.62,259.65 631.60,259.97 632.58,260.29 633.57,260.61 634.55,260.93 635.53,261.24 636.51,261.55 637.50,261.86 638.48,262.16 639.46,262.46 640.44,262.76 641.42,263.05 642.41,263.35 643.39,263.64 644.37,263.92 645.35,264.21 646.34,264.49 647.32,264.77 648.30,265.04 649.28,265.32 650.27,265.59 651.25,265.85 652.23,266.12 653.21,266.38 654.19,266.64 655.18,266.90 656.16,267.15 657.14,267.40 658.12,267.65 659.11,267.90 660.09,268.15 661.07,268.39 662.05,268.63 663.04,268.86 664.02,269.10 665.00,269.33 665.98,269.56 666.97,269.79 667.95,270.01 668.93,270.23 669.91,270.45 670.89,270.67 671.88,270.88 672.86,271.10 673.84,271.31 674.82,271.51 675.81,271.72 676.79,271.92 677.77,272.12 678.75,272.32 679.74,272.52 680.72,272.71 681.70,272.90" fill="none" stroke="#3cf8f8" stroke-width="1.6" stroke-linejoin="round"/>
<path d="M387.0,267.53h4.2 M387.0,262.17h4.2 M387.0,256.80h4.2 M387.0,251.44h4.2 M387.0,240.71h4.2 M387.0,235.34h4.2 M387.0,229.98h4.2 M387.0,224.61h4.2 M387.0,213.88h4.2 M387.0,208.52h4.2 M387.0,203.15h4.2 M387.0,197.79h4.2 M387.0,187.06h4.2 M387.0,181.69h4.2 M387.0,176.33h4.2 M387.0,170.96h4.2 M387.0,160.23h4.2 M387.0,154.87h4.2 M387.0,149.50h4.2 M387.0,144.14h4.2 M387.0,133.41h4.2 M387.0,128.04h4.2 M387.0,122.68h4.2 M387.0,117.31h4.2 M387.0,106.58h4.2 M387.0,101.22h4.2 M387.0,95.85h4.2 M387.0,90.49h4.2 M387.0,79.76h4.2 M387.0,74.39h4.2 M387.0,69.03h4.2 M387.0,63.66h4.2 M387.0,52.93h4.2 M387.0,47.57h4.2 M387.0,42.20h4.2 M387.0,36.84h4.2 M387.0,26.11h4.2 M387.0,20.74h4.2 M387.0,15.38h4.2 M387.0,10.01h4.2 M396.82,272.9v-4.2 M406.65,272.9v-4.2 M416.47,272.9v-4.2 M426.29,272.9v-4.2 M445.94,272.9v-4.2 M455.76,272.9v-4.2 M465.59,272.9v-4.2 M475.41,272.9v-4.2 M495.06,272.9v-4.2 M504.88,272.9v-4.2 M514.70,272.9v-4.2 M524.53,272.9v-4.2 M544.17,272.9v-4.2 M554.00,272.9v-4.2 M563.82,272.9v-4.2 M573.64,272.9v-4.2 M593.29,272.9v-4.2 M603.11,272.9v-4.2 M612.94,272.9v-4.2 M622.76,272.9v-4.2 M642.41,272.9v-4.2 M652.23,272.9v-4.2 M662.05,272.9v-4.2 M671.88,272.9v-4.2" stroke="#7a7a7a" stroke-width="0.9" fill="none"/>
<path d="M387.0,246.07h7.0 M387.0,219.25h7.0 M387.0,192.42h7.0 M387.0,165.60h7.0 M387.0,138.77h7.0 M387.0,111.95h7.0 M387.0,85.12h7.0 M387.0,58.30h7.0 M387.0,31.47h7.0 M436.12,272.9v-7.0 M485.23,272.9v-7.0 M534.35,272.9v-7.0 M583.47,272.9v-7.0 M632.58,272.9v-7.0" stroke="#000" stroke-width="1.2" fill="none"/>
<rect x="387.0" y="4.65" width="294.70000000000005" height="268.25" fill="none" stroke="#000" stroke-width="1.4"/>
<text x="382.70" y="277.10" text-anchor="end" class="t">0</text>
<text x="382.70" y="250.27" text-anchor="end" class="t">0.<tspan class="o1">1</tspan></text>
<text x="382.70" y="223.45" text-anchor="end" class="t">0.2</text>
<text x="382.70" y="196.62" text-anchor="end" class="t">0.3</text>
<text x="382.70" y="169.80" text-anchor="end" class="t">0.4</text>
<text x="382.70" y="142.97" text-anchor="end" class="t">0.5</text>
<text x="382.70" y="116.15" text-anchor="end" class="t">0.6</text>
<text x="382.70" y="89.33" text-anchor="end" class="t">0.7</text>
<text x="382.70" y="62.50" text-anchor="end" class="t">0.8</text>
<text x="382.70" y="35.67" text-anchor="end" class="t">0.9</text>
<text x="382.70" y="8.85" text-anchor="end" class="t"><tspan class="o1">1</tspan></text>
<text x="387.00" y="284.00" text-anchor="middle" class="t">0</text>
<text x="436.12" y="284.00" text-anchor="middle" class="t"><tspan class="o1">1</tspan></text>
<text x="485.23" y="284.00" text-anchor="middle" class="t">2</text>
<text x="534.35" y="284.00" text-anchor="middle" class="t">3</text>
<text x="583.47" y="284.00" text-anchor="middle" class="t">4</text>
<text x="632.58" y="284.00" text-anchor="middle" class="t">5</text>
<text x="681.70" y="284.00" text-anchor="middle" class="t">6</text>
<text x="534.35" y="297.50" text-anchor="middle" class="ax">η</text>
<text transform="translate(363.70,139.97) rotate(-90)" text-anchor="middle" class="ax"><tspan style="font-size:15px">θ</tspan>(η)</text>
<clipPath id="clipC"><rect x="34.5" y="322.6" width="294.9" height="268.6"/></clipPath>
<polyline clip-path="url(#clipC)" points="34.50,322.60 35.48,323.94 36.47,325.29 37.45,326.66 38.43,328.04 39.41,329.43 40.40,330.84 41.38,332.27 42.36,333.71 43.35,335.16 44.33,336.64 45.31,338.13 46.30,339.64 47.28,341.16 48.26,342.71 49.24,344.27 50.23,345.85 51.21,347.45 52.19,349.06 53.18,350.70 54.16,352.35 55.14,354.03 56.13,355.72 57.11,357.43 58.09,359.15 59.08,360.90 60.06,362.67 61.04,364.45 62.02,366.25 63.01,368.07 63.99,369.91 64.97,371.76 65.96,373.63 66.94,375.52 67.92,377.43 68.91,379.35 69.89,381.29 70.87,383.25 71.85,385.21 72.84,387.20 73.82,389.20 74.80,391.21 75.79,393.24 76.77,395.28 77.75,397.33 78.73,399.39 79.72,401.47 80.70,403.56 81.68,405.65 82.67,407.76 83.65,409.88 84.63,412.00 85.62,414.13 86.60,416.27 87.58,418.42 88.56,420.57 89.55,422.73 90.53,424.90 91.51,427.06 92.50,429.23 93.48,431.40 94.46,433.58 95.45,435.76 96.43,437.93 97.41,440.11 98.40,442.28 99.38,444.46 100.36,446.63 101.34,448.79 102.33,450.96 103.31,453.12 104.29,455.27 105.28,457.42 106.26,459.56 107.24,461.70 108.22,463.82 109.21,465.94 110.19,468.05 111.17,470.15 112.16,472.24 113.14,474.32 114.12,476.38 115.11,478.43 116.09,480.47 117.07,482.50 118.05,484.51 119.04,486.51 120.02,488.49 121.00,490.46 121.99,492.41 122.97,494.34 123.95,496.25 124.94,498.15 125.92,500.03 126.90,501.89 127.88,503.73 128.87,505.56 129.85,507.36 130.83,509.14 131.82,510.90 132.80,512.64 133.78,514.36 134.77,516.06 135.75,517.74 136.73,519.39 137.71,521.03 138.70,522.64 139.68,524.22 140.66,525.79 141.65,527.33 142.63,528.85 143.61,530.35 144.60,531.82 145.58,533.27 146.56,534.69 147.55,536.10 148.53,537.47 149.51,538.83 150.49,540.16 151.48,541.47 152.46,542.75 153.44,544.02 154.43,545.25 155.41,546.47 156.39,547.66 157.38,548.83 158.36,549.97 159.34,551.10 160.32,552.20 161.31,553.27 162.29,554.33 163.27,555.36 164.26,556.37 165.24,557.36 166.22,558.33 167.21,559.28 168.19,560.20 169.17,561.10 170.15,561.99 171.14,562.85 172.12,563.69 173.10,564.51 174.09,565.31 175.07,566.10 176.05,566.86 177.03,567.61 178.02,568.33 179.00,569.04 179.98,569.73 180.97,570.40 181.95,571.06 182.93,571.69 183.92,572.31 184.90,572.92 185.88,573.50 186.86,574.07 187.85,574.63 188.83,575.17 189.81,575.70 190.80,576.21 191.78,576.70 192.76,577.18 193.75,577.65 194.73,578.11 195.71,578.55 196.69,578.97 197.68,579.39 198.66,579.79 199.64,580.18 200.63,580.56 201.61,580.93 202.59,581.28 203.58,581.63 204.56,581.96 205.54,582.29 206.52,582.60 207.51,582.90 208.49,583.20 209.47,583.48 210.46,583.76 211.44,584.02 212.42,584.28 213.41,584.53 214.39,584.77 215.37,585.00 216.35,585.23 217.34,585.45 218.32,585.66 219.30,585.86 220.29,586.06 221.27,586.25 222.25,586.43 223.24,586.61 224.22,586.78 225.20,586.94 226.18,587.10 227.17,587.25 228.15,587.40 229.13,587.54 230.12,587.68 231.10,587.81 232.08,587.94 233.07,588.07 234.05,588.18 235.03,588.30 236.01,588.41 237.00,588.51 237.98,588.61 238.96,588.71 239.95,588.81 240.93,588.90 241.91,588.98 242.90,589.07 243.88,589.15 244.86,589.23 245.84,589.30 246.83,589.37 247.81,589.44 248.79,589.51 249.78,589.57 250.76,589.63 251.74,589.69 252.73,589.75 253.71,589.80 254.69,589.86 255.67,589.91 256.66,589.96 257.64,590.00 258.62,590.05 259.61,590.09 260.59,590.13 261.57,590.17 262.56,590.21 263.54,590.25 264.52,590.29 265.50,590.32 266.49,590.35 267.47,590.39 268.45,590.42 269.44,590.45 270.42,590.47 271.40,590.50 272.39,590.53 273.37,590.55 274.35,590.58 275.34,590.60 276.32,590.62 277.30,590.65 278.28,590.67 279.27,590.69 280.25,590.71 281.23,590.73 282.22,590.74 283.20,590.76 284.18,590.78 285.16,590.79 286.15,590.81 287.13,590.82 288.11,590.84 289.10,590.85 290.08,590.86 291.06,590.88 292.05,590.89 293.03,590.90 294.01,590.91 294.99,590.92 295.98,590.93 296.96,590.94 297.94,590.95 298.93,590.96 299.91,590.97 300.89,590.98 301.88,590.99 302.86,591.00 303.84,591.00 304.82,591.01 305.81,591.02 306.79,591.03 307.77,591.03 308.76,591.04 309.74,591.04 310.72,591.05 311.71,591.06 312.69,591.06 313.67,591.07 314.65,591.07 315.64,591.08 316.62,591.08 317.60,591.09 318.59,591.09 319.57,591.09 320.55,591.10 321.54,591.10 322.52,591.11 323.50,591.11 324.49,591.11 325.47,591.12 326.45,591.12 327.43,591.12 328.42,591.13 329.40,591.13" fill="none" stroke="#d03030" stroke-width="1.6" stroke-linejoin="round"/>
<polyline clip-path="url(#clipC)" points="34.50,322.60 35.48,323.80 36.47,325.00 37.45,326.21 38.43,327.43 39.41,328.65 40.40,329.88 41.38,331.12 42.36,332.37 43.35,333.63 44.33,334.89 45.31,336.17 46.30,337.45 47.28,338.75 48.26,340.05 49.24,341.37 50.23,342.70 51.21,344.04 52.19,345.39 53.18,346.75 54.16,348.12 55.14,349.51 56.13,350.91 57.11,352.32 58.09,353.74 59.08,355.18 60.06,356.63 61.04,358.09 62.02,359.56 63.01,361.05 63.99,362.55 64.97,364.07 65.96,365.60 66.94,367.14 67.92,368.69 68.91,370.26 69.89,371.84 70.87,373.44 71.85,375.04 72.84,376.66 73.82,378.30 74.80,379.95 75.79,381.60 76.77,383.28 77.75,384.96 78.73,386.66 79.72,388.37 80.70,390.09 81.68,391.82 82.67,393.57 83.65,395.32 84.63,397.09 85.62,398.86 86.60,400.65 87.58,402.45 88.56,404.26 89.55,406.08 90.53,407.90 91.51,409.74 92.50,411.58 93.48,413.43 94.46,415.30 95.45,417.16 96.43,419.04 97.41,420.92 98.40,422.81 99.38,424.70 100.36,426.60 101.34,428.51 102.33,430.41 103.31,432.33 104.29,434.24 105.28,436.16 106.26,438.09 107.24,440.01 108.22,441.94 109.21,443.87 110.19,445.80 111.17,447.73 112.16,449.65 113.14,451.58 114.12,453.51 115.11,455.44 116.09,457.36 117.07,459.28 118.05,461.20 119.04,463.11 120.02,465.02 121.00,466.93 121.99,468.83 122.97,470.73 123.95,472.61 124.94,474.50 125.92,476.37 126.90,478.24 127.88,480.10 128.87,481.95 129.85,483.79 130.83,485.62 131.82,487.45 132.80,489.26 133.78,491.06 134.77,492.85 135.75,494.63 136.73,496.40 137.71,498.15 138.70,499.89 139.68,501.62 140.66,503.33 141.65,505.03 142.63,506.72 143.61,508.39 144.60,510.04 145.58,511.69 146.56,513.31 147.55,514.92 148.53,516.51 149.51,518.09 150.49,519.64 151.48,521.18 152.46,522.71 153.44,524.21 154.43,525.70 155.41,527.17 156.39,528.62 157.38,530.06 158.36,531.47 159.34,532.87 160.32,534.24 161.31,535.60 162.29,536.94 163.27,538.26 164.26,539.55 165.24,540.83 166.22,542.09 167.21,543.33 168.19,544.55 169.17,545.75 170.15,546.93 171.14,548.09 172.12,549.23 173.10,550.35 174.09,551.45 175.07,552.53 176.05,553.59 177.03,554.63 178.02,555.65 179.00,556.66 179.98,557.64 180.97,558.60 181.95,559.54 182.93,560.47 183.92,561.37 184.90,562.26 185.88,563.12 186.86,563.97 187.85,564.80 188.83,565.61 189.81,566.40 190.80,567.18 191.78,567.93 192.76,568.67 193.75,569.39 194.73,570.09 195.71,570.78 196.69,571.45 197.68,572.10 198.66,572.74 199.64,573.36 200.63,573.96 201.61,574.55 202.59,575.12 203.58,575.68 204.56,576.22 205.54,576.75 206.52,577.26 207.51,577.76 208.49,578.25 209.47,578.72 210.46,579.17 211.44,579.62 212.42,580.05 213.41,580.46 214.39,580.87 215.37,581.26 216.35,581.64 217.34,582.01 218.32,582.37 219.30,582.71 220.29,583.05 221.27,583.37 222.25,583.68 223.24,583.98 224.22,584.28 225.20,584.56 226.18,584.83 227.17,585.10 228.15,585.35 229.13,585.60 230.12,585.84 231.10,586.06 232.08,586.28 233.07,586.49 234.05,586.70 235.03,586.89 236.01,587.07 237.00,587.25 237.98,587.42 238.96,587.58 239.95,587.73 240.93,587.88 241.91,588.03 242.90,588.16 243.88,588.29 244.86,588.42 245.84,588.53 246.83,588.65 247.81,588.76 248.79,588.86 249.78,588.96 250.76,589.06 251.74,589.15 252.73,589.24 253.71,589.32 254.69,589.40 255.67,589.48 256.66,589.55 257.64,589.62 258.62,589.69 259.61,589.76 260.59,589.82 261.57,589.88 262.56,589.93 263.54,589.99 264.52,590.04 265.50,590.09 266.49,590.14 267.47,590.18 268.45,590.23 269.44,590.27 270.42,590.31 271.40,590.35 272.39,590.38 273.37,590.42 274.35,590.45 275.34,590.48 276.32,590.51 277.30,590.54 278.28,590.57 279.27,590.60 280.25,590.62 281.23,590.65 282.22,590.67 283.20,590.69 284.18,590.72 285.16,590.74 286.15,590.76 287.13,590.78 288.11,590.79 289.10,590.81 290.08,590.83 291.06,590.84 292.05,590.86 293.03,590.87 294.01,590.89 294.99,590.90 295.98,590.91 296.96,590.93 297.94,590.94 298.93,590.95 299.91,590.96 300.89,590.97 301.88,590.98 302.86,590.99 303.84,591.00 304.82,591.01 305.81,591.01 306.79,591.02 307.77,591.03 308.76,591.04 309.74,591.04 310.72,591.05 311.71,591.06 312.69,591.06 313.67,591.07 314.65,591.08 315.64,591.08 316.62,591.09 317.60,591.09 318.59,591.10 319.57,591.10 320.55,591.10 321.54,591.11 322.52,591.11 323.50,591.12 324.49,591.12 325.47,591.12 326.45,591.13 327.43,591.13 328.42,591.13 329.40,591.14" fill="none" stroke="#16c816" stroke-width="1.6" stroke-linejoin="round"/>
<polyline clip-path="url(#clipC)" points="34.50,322.60 35.48,323.65 36.47,324.71 37.45,325.78 38.43,326.85 39.41,327.93 40.40,329.02 41.38,330.12 42.36,331.23 43.35,332.34 44.33,333.46 45.31,334.60 46.30,335.74 47.28,336.88 48.26,338.04 49.24,339.21 50.23,340.38 51.21,341.57 52.19,342.76 53.18,343.96 54.16,345.17 55.14,346.39 56.13,347.62 57.11,348.86 58.09,350.11 59.08,351.37 60.06,352.64 61.04,353.92 62.02,355.21 63.01,356.51 63.99,357.81 64.97,359.13 65.96,360.46 66.94,361.79 67.92,363.14 68.91,364.49 69.89,365.86 70.87,367.24 71.85,368.62 72.84,370.02 73.82,371.42 74.80,372.83 75.79,374.26 76.77,375.69 77.75,377.13 78.73,378.58 79.72,380.04 80.70,381.51 81.68,382.99 82.67,384.48 83.65,385.98 84.63,387.48 85.62,389.00 86.60,390.52 87.58,392.05 88.56,393.59 89.55,395.14 90.53,396.69 91.51,398.26 92.50,399.83 93.48,401.41 94.46,402.99 95.45,404.58 96.43,406.18 97.41,407.79 98.40,409.41 99.38,411.03 100.36,412.65 101.34,414.28 102.33,415.92 103.31,417.57 104.29,419.21 105.28,420.87 106.26,422.53 107.24,424.19 108.22,425.86 109.21,427.53 110.19,429.21 111.17,430.89 112.16,432.57 113.14,434.26 114.12,435.95 115.11,437.64 116.09,439.33 117.07,441.03 118.05,442.73 119.04,444.43 120.02,446.13 121.00,447.83 121.99,449.53 122.97,451.23 123.95,452.94 124.94,454.64 125.92,456.34 126.90,458.04 127.88,459.74 128.87,461.44 129.85,463.13 130.83,464.82 131.82,466.51 132.80,468.20 133.78,469.89 134.77,471.57 135.75,473.24 136.73,474.92 137.71,476.58 138.70,478.25 139.68,479.91 140.66,481.56 141.65,483.21 142.63,484.85 143.61,486.48 144.60,488.11 145.58,489.73 146.56,491.34 147.55,492.95 148.53,494.54 149.51,496.13 150.49,497.71 151.48,499.29 152.46,500.85 153.44,502.40 154.43,503.94 155.41,505.48 156.39,507.00 157.38,508.51 158.36,510.01 159.34,511.50 160.32,512.98 161.31,514.45 162.29,515.90 163.27,517.35 164.26,518.78 165.24,520.20 166.22,521.60 167.21,522.99 168.19,524.37 169.17,525.73 170.15,527.09 171.14,528.42 172.12,529.75 173.10,531.06 174.09,532.35 175.07,533.63 176.05,534.89 177.03,536.14 178.02,537.38 179.00,538.60 179.98,539.80 180.97,540.99 181.95,542.17 182.93,543.32 183.92,544.46 184.90,545.59 185.88,546.70 186.86,547.79 187.85,548.87 188.83,549.93 189.81,550.98 190.80,552.01 191.78,553.02 192.76,554.02 193.75,555.00 194.73,555.96 195.71,556.91 196.69,557.84 197.68,558.75 198.66,559.65 199.64,560.53 200.63,561.40 201.61,562.25 202.59,563.08 203.58,563.90 204.56,564.70 205.54,565.49 206.52,566.26 207.51,567.01 208.49,567.75 209.47,568.47 210.46,569.18 211.44,569.87 212.42,570.55 213.41,571.21 214.39,571.85 215.37,572.48 216.35,573.10 217.34,573.70 218.32,574.29 219.30,574.86 220.29,575.42 221.27,575.96 222.25,576.50 223.24,577.01 224.22,577.52 225.20,578.01 226.18,578.48 227.17,578.95 228.15,579.40 229.13,579.84 230.12,580.27 231.10,580.68 232.08,581.08 233.07,581.48 234.05,581.85 235.03,582.22 236.01,582.58 237.00,582.92 237.98,583.26 238.96,583.58 239.95,583.90 240.93,584.20 241.91,584.50 242.90,584.78 243.88,585.06 244.86,585.32 245.84,585.58 246.83,585.83 247.81,586.06 248.79,586.30 249.78,586.52 250.76,586.73 251.74,586.94 252.73,587.14 253.71,587.33 254.69,587.51 255.67,587.69 256.66,587.86 257.64,588.02 258.62,588.18 259.61,588.33 260.59,588.47 261.57,588.61 262.56,588.75 263.54,588.87 264.52,589.00 265.50,589.11 266.49,589.22 267.47,589.33 268.45,589.43 269.44,589.53 270.42,589.62 271.40,589.71 272.39,589.80 273.37,589.88 274.35,589.95 275.34,590.03 276.32,590.10 277.30,590.16 278.28,590.22 279.27,590.28 280.25,590.33 281.23,590.38 282.22,590.43 283.20,590.48 284.18,590.52 285.16,590.56 286.15,590.60 287.13,590.63 288.11,590.67 289.10,590.70 290.08,590.73 291.06,590.75 292.05,590.78 293.03,590.81 294.01,590.83 294.99,590.85 295.98,590.87 296.96,590.89 297.94,590.91 298.93,590.93 299.91,590.94 300.89,590.96 301.88,590.97 302.86,590.98 303.84,591.00 304.82,591.01 305.81,591.02 306.79,591.03 307.77,591.04 308.76,591.05 309.74,591.06 310.72,591.07 311.71,591.07 312.69,591.08 313.67,591.09 314.65,591.10 315.64,591.10 316.62,591.11 317.60,591.11 318.59,591.12 319.57,591.12 320.55,591.13 321.54,591.13 322.52,591.14 323.50,591.14 324.49,591.14 325.47,591.15 326.45,591.15 327.43,591.15 328.42,591.16 329.40,591.16" fill="none" stroke="#2f2fe6" stroke-width="1.6" stroke-linejoin="round"/>
<polyline clip-path="url(#clipC)" points="34.50,322.60 35.48,323.47 36.47,324.35 37.45,325.25 38.43,326.16 39.41,327.08 40.40,328.01 41.38,328.96 42.36,329.92 43.35,330.89 44.33,331.87 45.31,332.86 46.30,333.86 47.28,334.88 48.26,335.90 49.24,336.94 50.23,337.98 51.21,339.04 52.19,340.11 53.18,341.18 54.16,342.27 55.14,343.37 56.13,344.47 57.11,345.59 58.09,346.71 59.08,347.85 60.06,348.99 61.04,350.14 62.02,351.30 63.01,352.47 63.99,353.65 64.97,354.84 65.96,356.03 66.94,357.24 67.92,358.45 68.91,359.67 69.89,360.90 70.87,362.13 71.85,363.38 72.84,364.63 73.82,365.88 74.80,367.15 75.79,368.42 76.77,369.70 77.75,370.99 78.73,372.28 79.72,373.58 80.70,374.89 81.68,376.20 82.67,377.53 83.65,378.85 84.63,380.19 85.62,381.53 86.60,382.87 87.58,384.22 88.56,385.58 89.55,386.95 90.53,388.32 91.51,389.69 92.50,391.07 93.48,392.46 94.46,393.85 95.45,395.25 96.43,396.65 97.41,398.06 98.40,399.47 99.38,400.89 100.36,402.31 101.34,403.74 102.33,405.17 103.31,406.61 104.29,408.05 105.28,409.50 106.26,410.95 107.24,412.40 108.22,413.86 109.21,415.32 110.19,416.79 111.17,418.26 112.16,419.73 113.14,421.21 114.12,422.69 115.11,424.17 116.09,425.66 117.07,427.15 118.05,428.64 119.04,430.14 120.02,431.63 121.00,433.13 121.99,434.64 122.97,436.14 123.95,437.65 124.94,439.16 125.92,440.67 126.90,442.18 127.88,443.70 128.87,445.21 129.85,446.73 130.83,448.24 131.82,449.76 132.80,451.28 133.78,452.80 134.77,454.32 135.75,455.84 136.73,457.36 137.71,458.88 138.70,460.40 139.68,461.92 140.66,463.44 141.65,464.96 142.63,466.48 143.61,467.99 144.60,469.51 145.58,471.02 146.56,472.53 147.55,474.04 148.53,475.55 149.51,477.05 150.49,478.55 151.48,480.05 152.46,481.55 153.44,483.04 154.43,484.53 155.41,486.01 156.39,487.50 157.38,488.97 158.36,490.45 159.34,491.91 160.32,493.38 161.31,494.84 162.29,496.29 163.27,497.74 164.26,499.18 165.24,500.62 166.22,502.05 167.21,503.47 168.19,504.89 169.17,506.30 170.15,507.71 171.14,509.10 172.12,510.49 173.10,511.87 174.09,513.25 175.07,514.61 176.05,515.97 177.03,517.32 178.02,518.65 179.00,519.98 179.98,521.31 180.97,522.62 181.95,523.92 182.93,525.21 183.92,526.49 184.90,527.76 185.88,529.02 186.86,530.27 187.85,531.51 188.83,532.74 189.81,533.96 190.80,535.16 191.78,536.36 192.76,537.54 193.75,538.71 194.73,539.86 195.71,541.01 196.69,542.14 197.68,543.26 198.66,544.37 199.64,545.46 200.63,546.54 201.61,547.61 202.59,548.66 203.58,549.70 204.56,550.72 205.54,551.74 206.52,552.74 207.51,553.72 208.49,554.69 209.47,555.65 210.46,556.59 211.44,557.51 212.42,558.43 213.41,559.32 214.39,560.21 215.37,561.08 216.35,561.93 217.34,562.77 218.32,563.60 219.30,564.41 220.29,565.20 221.27,565.98 222.25,566.75 223.24,567.50 224.22,568.24 225.20,568.96 226.18,569.67 227.17,570.36 228.15,571.04 229.13,571.70 230.12,572.35 231.10,572.98 232.08,573.60 233.07,574.21 234.05,574.80 235.03,575.38 236.01,575.94 237.00,576.50 237.98,577.03 238.96,577.55 239.95,578.06 240.93,578.56 241.91,579.04 242.90,579.51 243.88,579.97 244.86,580.41 245.84,580.84 246.83,581.26 247.81,581.67 248.79,582.06 249.78,582.45 250.76,582.82 251.74,583.18 252.73,583.52 253.71,583.86 254.69,584.19 255.67,584.50 256.66,584.81 257.64,585.10 258.62,585.38 259.61,585.66 260.59,585.92 261.57,586.18 262.56,586.42 263.54,586.66 264.52,586.88 265.50,587.10 266.49,587.31 267.47,587.51 268.45,587.71 269.44,587.89 270.42,588.07 271.40,588.24 272.39,588.40 273.37,588.56 274.35,588.71 275.34,588.85 276.32,588.98 277.30,589.11 278.28,589.23 279.27,589.34 280.25,589.45 281.23,589.55 282.22,589.64 283.20,589.73 284.18,589.82 285.16,589.90 286.15,589.97 287.13,590.04 288.11,590.11 289.10,590.17 290.08,590.23 291.06,590.29 292.05,590.34 293.03,590.39 294.01,590.43 294.99,590.48 295.98,590.52 296.96,590.56 297.94,590.59 298.93,590.63 299.91,590.66 300.89,590.69 301.88,590.72 302.86,590.75 303.84,590.78 304.82,590.80 305.81,590.82 306.79,590.84 307.77,590.86 308.76,590.88 309.74,590.90 310.72,590.92 311.71,590.93 312.69,590.95 313.67,590.96 314.65,590.98 315.64,590.99 316.62,591.00 317.60,591.01 318.59,591.02 319.57,591.03 320.55,591.04 321.54,591.05 322.52,591.06 323.50,591.07 324.49,591.08 325.47,591.08 326.45,591.09 327.43,591.10 328.42,591.10 329.40,591.11" fill="none" stroke="#3cf8f8" stroke-width="1.6" stroke-linejoin="round"/>
<path d="M34.5,585.83h4.2 M34.5,580.46h4.2 M34.5,575.08h4.2 M34.5,569.71h4.2 M34.5,558.97h4.2 M34.5,553.60h4.2 M34.5,548.22h4.2 M34.5,542.85h4.2 M34.5,532.11h4.2 M34.5,526.74h4.2 M34.5,521.36h4.2 M34.5,515.99h4.2 M34.5,505.25h4.2 M34.5,499.88h4.2 M34.5,494.50h4.2 M34.5,489.13h4.2 M34.5,478.39h4.2 M34.5,473.02h4.2 M34.5,467.64h4.2 M34.5,462.27h4.2 M34.5,451.53h4.2 M34.5,446.16h4.2 M34.5,440.78h4.2 M34.5,435.41h4.2 M34.5,424.67h4.2 M34.5,419.30h4.2 M34.5,413.92h4.2 M34.5,408.55h4.2 M34.5,397.81h4.2 M34.5,392.44h4.2 M34.5,387.06h4.2 M34.5,381.69h4.2 M34.5,370.95h4.2 M34.5,365.58h4.2 M34.5,360.20h4.2 M34.5,354.83h4.2 M34.5,344.09h4.2 M34.5,338.72h4.2 M34.5,333.34h4.2 M34.5,327.97h4.2 M44.33,591.2v-4.2 M54.16,591.2v-4.2 M63.99,591.2v-4.2 M73.82,591.2v-4.2 M93.48,591.2v-4.2 M103.31,591.2v-4.2 M113.14,591.2v-4.2 M122.97,591.2v-4.2 M142.63,591.2v-4.2 M152.46,591.2v-4.2 M162.29,591.2v-4.2 M172.12,591.2v-4.2 M191.78,591.2v-4.2 M201.61,591.2v-4.2 M211.44,591.2v-4.2 M221.27,591.2v-4.2 M240.93,591.2v-4.2 M250.76,591.2v-4.2 M260.59,591.2v-4.2 M270.42,591.2v-4.2 M290.08,591.2v-4.2 M299.91,591.2v-4.2 M309.74,591.2v-4.2 M319.57,591.2v-4.2" stroke="#7a7a7a" stroke-width="0.9" fill="none"/>
<path d="M34.5,564.34h7.0 M34.5,537.48h7.0 M34.5,510.62h7.0 M34.5,483.76h7.0 M34.5,456.90h7.0 M34.5,430.04h7.0 M34.5,403.18h7.0 M34.5,376.32h7.0 M34.5,349.46h7.0 M83.65,591.2v-7.0 M132.80,591.2v-7.0 M181.95,591.2v-7.0 M231.10,591.2v-7.0 M280.25,591.2v-7.0" stroke="#000" stroke-width="1.2" fill="none"/>
<rect x="34.5" y="322.6" width="294.9" height="268.6" fill="none" stroke="#000" stroke-width="1.4"/>
<text x="30.20" y="595.40" text-anchor="end" class="t">0</text>
<text x="30.20" y="568.54" text-anchor="end" class="t">0.<tspan class="o1">1</tspan></text>
<text x="30.20" y="541.68" text-anchor="end" class="t">0.2</text>
<text x="30.20" y="514.82" text-anchor="end" class="t">0.3</text>
<text x="30.20" y="487.96" text-anchor="end" class="t">0.4</text>
<text x="30.20" y="461.10" text-anchor="end" class="t">0.5</text>
<text x="30.20" y="434.24" text-anchor="end" class="t">0.6</text>
<text x="30.20" y="407.38" text-anchor="end" class="t">0.7</text>
<text x="30.20" y="380.52" text-anchor="end" class="t">0.8</text>
<text x="30.20" y="353.66" text-anchor="end" class="t">0.9</text>
<text x="30.20" y="326.80" text-anchor="end" class="t"><tspan class="o1">1</tspan></text>
<text x="34.50" y="602.30" text-anchor="middle" class="t">0</text>
<text x="83.65" y="602.30" text-anchor="middle" class="t"><tspan class="o1">1</tspan></text>
<text x="132.80" y="602.30" text-anchor="middle" class="t">2</text>
<text x="181.95" y="602.30" text-anchor="middle" class="t">3</text>
<text x="231.10" y="602.30" text-anchor="middle" class="t">4</text>
<text x="280.25" y="602.30" text-anchor="middle" class="t">5</text>
<text x="329.40" y="602.30" text-anchor="middle" class="t">6</text>
<text x="181.95" y="615.80" text-anchor="middle" class="ax">η</text>
<text transform="translate(11.20,458.10) rotate(-90)" text-anchor="middle" class="ax"><tspan style="font-size:15px">θ</tspan>(η)</text>
<clipPath id="clipD"><rect x="387.0" y="322.6" width="294.70000000000005" height="268.6"/></clipPath>
<polyline clip-path="url(#clipD)" points="387.00,414.40 387.98,413.32 388.96,412.38 389.95,411.60 390.93,410.97 391.91,410.49 392.89,410.16 393.88,409.99 394.86,409.96 395.84,410.09 396.82,410.36 397.81,410.77 398.79,411.33 399.77,412.03 400.75,412.86 401.74,413.82 402.72,414.92 403.70,416.13 404.68,417.47 405.66,418.92 406.65,420.47 407.63,422.14 408.61,423.90 409.59,425.75 410.58,427.69 411.56,429.72 412.54,431.82 413.52,433.99 414.51,436.23 415.49,438.53 416.47,440.88 417.45,443.28 418.43,445.73 419.42,448.22 420.40,450.73 421.38,453.28 422.36,455.85 423.35,458.44 424.33,461.04 425.31,463.66 426.29,466.28 427.28,468.90 428.26,471.52 429.24,474.13 430.22,476.74 431.21,479.33 432.19,481.91 433.17,484.47 434.15,487.00 435.13,489.52 436.12,492.01 437.10,494.47 438.08,496.90 439.06,499.30 440.05,501.66 441.03,503.99 442.01,506.29 442.99,508.55 443.98,510.77 444.96,512.95 445.94,515.09 446.92,517.19 447.90,519.25 448.89,521.27 449.87,523.25 450.85,525.19 451.83,527.08 452.82,528.93 453.80,530.74 454.78,532.51 455.76,534.24 456.75,535.93 457.73,537.58 458.71,539.18 459.69,540.75 460.68,542.28 461.66,543.76 462.64,545.21 463.62,546.63 464.60,548.00 465.59,549.34 466.57,550.64 467.55,551.91 468.53,553.14 469.52,554.34 470.50,555.51 471.48,556.64 472.46,557.75 473.45,558.82 474.43,559.86 475.41,560.87 476.39,561.85 477.37,562.81 478.36,563.74 479.34,564.64 480.32,565.51 481.30,566.36 482.29,567.19 483.27,567.99 484.25,568.77 485.23,569.52 486.22,570.25 487.20,570.97 488.18,571.66 489.16,572.33 490.15,572.98 491.13,573.61 492.11,574.22 493.09,574.81 494.07,575.39 495.06,575.95 496.04,576.49 497.02,577.02 498.00,577.53 498.99,578.02 499.97,578.51 500.95,578.97 501.93,579.42 502.92,579.86 503.90,580.29 504.88,580.70 505.86,581.10 506.84,581.48 507.83,581.86 508.81,582.22 509.79,582.58 510.77,582.92 511.76,583.25 512.74,583.57 513.72,583.88 514.70,584.18 515.69,584.47 516.67,584.75 517.65,585.02 518.63,585.28 519.62,585.54 520.60,585.78 521.58,586.02 522.56,586.25 523.54,586.47 524.53,586.69 525.51,586.89 526.49,587.09 527.47,587.29 528.46,587.47 529.44,587.65 530.42,587.82 531.40,587.99 532.39,588.15 533.37,588.30 534.35,588.45 535.33,588.61 536.31,588.75 537.30,588.89 538.28,589.02 539.26,589.15 540.24,589.27 541.23,589.38 542.21,589.48 543.19,589.59 544.17,589.68 545.16,589.77 546.14,589.86 547.12,589.94 548.10,590.01 549.09,590.09 550.07,590.16 551.05,590.22 552.03,590.28 553.01,590.34 554.00,590.40 554.98,590.45 555.96,590.50 556.94,590.55 557.93,590.59 558.91,590.64 559.89,590.68 560.87,590.71 561.86,590.75 562.84,590.78 563.82,590.82 564.80,590.85 565.78,590.88 566.77,590.90 567.75,590.93 568.73,590.95 569.71,590.98 570.70,591.00 571.68,591.02 572.66,591.04 573.64,591.06 574.63,591.08 575.61,591.09 576.59,591.11 577.57,591.13 578.56,591.14 579.54,591.15 580.52,591.17 581.50,591.18 582.48,591.19 583.47,591.20 584.45,591.21 585.43,591.22 586.41,591.23 587.40,591.24 588.38,591.25 589.36,591.26 590.34,591.26 591.33,591.27 592.31,591.28 593.29,591.28 594.27,591.29 595.25,591.30 596.24,591.30 597.22,591.31 598.20,591.31 599.18,591.32 600.17,591.32 601.15,591.33 602.13,591.33 603.11,591.33 604.10,591.34 605.08,591.34 606.06,591.34 607.04,591.35 608.02,591.35 609.01,591.35 609.99,591.35 610.97,591.36 611.95,591.36 612.94,591.36 613.92,591.36 614.90,591.36 615.88,591.37 616.87,591.37 617.85,591.37 618.83,591.37 619.81,591.37 620.80,591.37 621.78,591.38 622.76,591.38 623.74,591.38 624.72,591.38 625.71,591.38 626.69,591.38 627.67,591.38 628.65,591.38 629.64,591.38 630.62,591.39 631.60,591.39 632.58,591.39 633.57,591.39 634.55,591.39 635.53,591.39 636.51,591.39 637.50,591.39 638.48,591.39 639.46,591.39 640.44,591.39 641.42,591.39 642.41,591.39 643.39,591.39 644.37,591.39 645.35,591.39 646.34,591.39 647.32,591.39 648.30,591.39 649.28,591.39 650.27,591.39 651.25,591.40 652.23,591.40 653.21,591.40 654.19,591.40 655.18,591.40 656.16,591.40 657.14,591.40 658.12,591.40 659.11,591.40 660.09,591.40 661.07,591.40 662.05,591.40 663.04,591.40 664.02,591.40 665.00,591.40 665.98,591.40 666.97,591.40 667.95,591.40 668.93,591.40 669.91,591.40 670.89,591.40 671.88,591.40 672.86,591.40 673.84,591.40 674.82,591.40 675.81,591.40 676.79,591.40 677.77,591.40 678.75,591.40 679.74,591.40 680.72,591.40 681.70,591.40" fill="none" stroke="#d03030" stroke-width="1.6" stroke-linejoin="round"/>
<polyline clip-path="url(#clipD)" points="387.00,414.40 387.98,411.56 388.96,408.97 389.95,406.62 390.93,404.51 391.91,402.65 392.89,401.02 393.88,399.62 394.86,398.46 395.84,397.53 396.82,396.81 397.81,396.32 398.79,396.03 399.77,395.95 400.75,396.06 401.74,396.36 402.72,396.84 403.70,397.50 404.68,398.32 405.66,399.31 406.65,400.44 407.63,401.72 408.61,403.13 409.59,404.67 410.58,406.34 411.56,408.11 412.54,410.00 413.52,411.98 414.51,414.06 415.49,416.22 416.47,418.46 417.45,420.78 418.43,423.16 419.42,425.61 420.40,428.11 421.38,430.65 422.36,433.25 423.35,435.88 424.33,438.55 425.31,441.25 426.29,443.97 427.28,446.72 428.26,449.48 429.24,452.25 430.22,455.03 431.21,457.82 432.19,460.61 433.17,463.40 434.15,466.18 435.13,468.96 436.12,471.73 437.10,474.48 438.08,477.21 439.06,479.93 440.05,482.63 441.03,485.30 442.01,487.95 442.99,490.57 443.98,493.16 444.96,495.73 445.94,498.26 446.92,500.75 447.90,503.21 448.89,505.64 449.87,508.03 450.85,510.38 451.83,512.69 452.82,514.96 453.80,517.19 454.78,519.38 455.76,521.52 456.75,523.62 457.73,525.68 458.71,527.70 459.69,529.67 460.68,531.60 461.66,533.48 462.64,535.32 463.62,537.12 464.60,538.87 465.59,540.58 466.57,542.24 467.55,543.86 468.53,545.44 469.52,546.97 470.50,548.46 471.48,549.91 472.46,551.32 473.45,552.69 474.43,554.02 475.41,555.31 476.39,556.56 477.37,557.77 478.36,558.94 479.34,560.07 480.32,561.17 481.30,562.24 482.29,563.27 483.27,564.26 484.25,565.22 485.23,566.15 486.22,567.05 487.20,567.92 488.18,568.75 489.16,569.56 490.15,570.34 491.13,571.09 492.11,571.82 493.09,572.52 494.07,573.19 495.06,573.84 496.04,574.47 497.02,575.07 498.00,575.65 498.99,576.21 499.97,576.75 500.95,577.27 501.93,577.77 502.92,578.25 503.90,578.71 504.88,579.16 505.86,579.59 506.84,580.00 507.83,580.40 508.81,580.78 509.79,581.15 510.77,581.51 511.76,581.85 512.74,582.18 513.72,582.50 514.70,582.80 515.69,583.10 516.67,583.38 517.65,583.66 518.63,583.93 519.62,584.18 520.60,584.43 521.58,584.67 522.56,584.90 523.54,585.13 524.53,585.34 525.51,585.55 526.49,585.75 527.47,585.95 528.46,586.14 529.44,586.33 530.42,586.51 531.40,586.68 532.39,586.85 533.37,587.02 534.35,587.18 535.33,587.39 536.31,587.59 537.30,587.79 538.28,587.97 539.26,588.14 540.24,588.30 541.23,588.46 542.21,588.61 543.19,588.75 544.17,588.88 545.16,589.01 546.14,589.13 547.12,589.24 548.10,589.35 549.09,589.45 550.07,589.55 551.05,589.64 552.03,589.73 553.01,589.82 554.00,589.90 554.98,589.97 555.96,590.04 556.94,590.11 557.93,590.18 558.91,590.24 559.89,590.30 560.87,590.35 561.86,590.41 562.84,590.46 563.82,590.50 564.80,590.55 565.78,590.59 566.77,590.63 567.75,590.67 568.73,590.71 569.71,590.74 570.70,590.77 571.68,590.81 572.66,590.84 573.64,590.86 574.63,590.89 575.61,590.92 576.59,590.94 577.57,590.96 578.56,590.99 579.54,591.01 580.52,591.03 581.50,591.05 582.48,591.06 583.47,591.08 584.45,591.10 585.43,591.11 586.41,591.13 587.40,591.14 588.38,591.15 589.36,591.17 590.34,591.18 591.33,591.19 592.31,591.20 593.29,591.21 594.27,591.22 595.25,591.23 596.24,591.24 597.22,591.24 598.20,591.25 599.18,591.26 600.17,591.27 601.15,591.27 602.13,591.28 603.11,591.29 604.10,591.29 605.08,591.30 606.06,591.30 607.04,591.31 608.02,591.31 609.01,591.32 609.99,591.32 610.97,591.32 611.95,591.33 612.94,591.33 613.92,591.34 614.90,591.34 615.88,591.34 616.87,591.34 617.85,591.35 618.83,591.35 619.81,591.35 620.80,591.35 621.78,591.36 622.76,591.36 623.74,591.36 624.72,591.36 625.71,591.37 626.69,591.37 627.67,591.37 628.65,591.37 629.64,591.37 630.62,591.37 631.60,591.37 632.58,591.38 633.57,591.38 634.55,591.38 635.53,591.38 636.51,591.38 637.50,591.38 638.48,591.38 639.46,591.38 640.44,591.38 641.42,591.38 642.41,591.39 643.39,591.39 644.37,591.39 645.35,591.39 646.34,591.39 647.32,591.39 648.30,591.39 649.28,591.39 650.27,591.39 651.25,591.39 652.23,591.39 653.21,591.39 654.19,591.39 655.18,591.39 656.16,591.39 657.14,591.39 658.12,591.39 659.11,591.39 660.09,591.39 661.07,591.39 662.05,591.39 663.04,591.40 664.02,591.40 665.00,591.40 665.98,591.40 666.97,591.40 667.95,591.40 668.93,591.40 669.91,591.40 670.89,591.40 671.88,591.40 672.86,591.40 673.84,591.40 674.82,591.40 675.81,591.40 676.79,591.40 677.77,591.40 678.75,591.40 679.74,591.40 680.72,591.40 681.70,591.40" fill="none" stroke="#16c816" stroke-width="1.6" stroke-linejoin="round"/>
<polyline clip-path="url(#clipD)" points="387.00,414.40 387.98,409.42 388.96,404.76 389.95,400.43 390.93,396.43 391.91,392.76 392.89,389.43 393.88,386.43 394.86,383.76 395.84,381.41 396.82,379.38 397.81,377.66 398.79,376.24 399.77,375.11 400.75,374.26 401.74,373.68 402.72,373.36 403.70,373.28 404.68,373.44 405.66,373.82 406.65,374.42 407.63,375.22 408.61,376.20 409.59,377.37 410.58,378.70 411.56,380.19 412.54,381.83 413.52,383.60 414.51,385.51 415.49,387.54 416.47,389.68 417.45,391.92 418.43,394.26 419.42,396.69 420.40,399.20 421.38,401.79 422.36,404.45 423.35,407.17 424.33,409.95 425.31,412.78 426.29,415.66 427.28,418.59 428.26,421.55 429.24,424.54 430.22,427.57 431.21,430.61 432.19,433.68 433.17,436.77 434.15,439.87 435.13,442.98 436.12,446.10 437.10,449.22 438.08,452.34 439.06,455.45 440.05,458.56 441.03,461.66 442.01,464.75 442.99,467.82 443.98,470.88 444.96,473.91 445.94,476.92 446.92,479.90 447.90,482.86 448.89,485.79 449.87,488.68 450.85,491.54 451.83,494.36 452.82,497.15 453.80,499.89 454.78,502.59 455.76,505.25 456.75,507.86 457.73,510.42 458.71,512.94 459.69,515.41 460.68,517.82 461.66,520.19 462.64,522.50 463.62,524.76 464.60,526.97 465.59,529.13 466.57,531.23 467.55,533.27 468.53,535.27 469.52,537.20 470.50,539.09 471.48,540.92 472.46,542.69 473.45,544.41 474.43,546.08 475.41,547.70 476.39,549.26 477.37,550.78 478.36,552.24 479.34,553.65 480.32,555.02 481.30,556.34 482.29,557.61 483.27,558.83 484.25,560.01 485.23,561.15 486.22,562.24 487.20,563.29 488.18,564.30 489.16,565.28 490.15,566.21 491.13,567.11 492.11,567.97 493.09,568.80 494.07,569.59 495.06,570.35 496.04,571.09 497.02,571.79 498.00,572.46 498.99,573.11 499.97,573.72 500.95,574.32 501.93,574.89 502.92,575.43 503.90,575.95 504.88,576.45 505.86,576.94 506.84,577.40 507.83,577.84 508.81,578.27 509.79,578.68 510.77,579.07 511.76,579.45 512.74,579.81 513.72,580.16 514.70,580.50 515.69,580.83 516.67,581.15 517.65,581.45 518.63,581.75 519.62,582.03 520.60,582.31 521.58,582.58 522.56,582.85 523.54,583.11 524.53,583.36 525.51,583.60 526.49,583.85 527.47,584.08 528.46,584.32 529.44,584.55 530.42,584.78 531.40,585.00 532.39,585.22 533.37,585.45 534.35,585.67 535.33,585.92 536.31,586.15 537.30,586.38 538.28,586.60 539.26,586.81 540.24,587.01 541.23,587.20 542.21,587.38 543.19,587.55 544.17,587.72 545.16,587.88 546.14,588.03 547.12,588.18 548.10,588.32 549.09,588.45 550.07,588.58 551.05,588.70 552.03,588.82 553.01,588.93 554.00,589.04 554.98,589.14 555.96,589.24 556.94,589.33 557.93,589.42 558.91,589.51 559.89,589.59 560.87,589.67 561.86,589.75 562.84,589.82 563.82,589.89 564.80,589.95 565.78,590.02 566.77,590.08 567.75,590.13 568.73,590.19 569.71,590.24 570.70,590.29 571.68,590.34 572.66,590.39 573.64,590.43 574.63,590.47 575.61,590.51 576.59,590.55 577.57,590.59 578.56,590.62 579.54,590.66 580.52,590.69 581.50,590.72 582.48,590.75 583.47,590.78 584.45,590.80 585.43,590.83 586.41,590.85 587.40,590.88 588.38,590.90 589.36,590.92 590.34,590.94 591.33,590.96 592.31,590.98 593.29,591.00 594.27,591.02 595.25,591.03 596.24,591.05 597.22,591.07 598.20,591.08 599.18,591.09 600.17,591.11 601.15,591.12 602.13,591.13 603.11,591.14 604.10,591.15 605.08,591.17 606.06,591.18 607.04,591.19 608.02,591.19 609.01,591.20 609.99,591.21 610.97,591.22 611.95,591.23 612.94,591.24 613.92,591.24 614.90,591.25 615.88,591.26 616.87,591.26 617.85,591.27 618.83,591.27 619.81,591.28 620.80,591.28 621.78,591.29 622.76,591.29 623.74,591.30 624.72,591.30 625.71,591.31 626.69,591.31 627.67,591.32 628.65,591.32 629.64,591.32 630.62,591.33 631.60,591.33 632.58,591.33 633.57,591.34 634.55,591.34 635.53,591.34 636.51,591.34 637.50,591.35 638.48,591.35 639.46,591.35 640.44,591.35 641.42,591.35 642.41,591.36 643.39,591.36 644.37,591.36 645.35,591.36 646.34,591.36 647.32,591.37 648.30,591.37 649.28,591.37 650.27,591.37 651.25,591.37 652.23,591.37 653.21,591.37 654.19,591.37 655.18,591.38 656.16,591.38 657.14,591.38 658.12,591.38 659.11,591.38 660.09,591.38 661.07,591.38 662.05,591.38 663.04,591.38 664.02,591.38 665.00,591.38 665.98,591.39 666.97,591.39 667.95,591.39 668.93,591.39 669.91,591.39 670.89,591.39 671.88,591.39 672.86,591.39 673.84,591.39 674.82,591.39 675.81,591.39 676.79,591.39 677.77,591.39 678.75,591.39 679.74,591.39 680.72,591.39 681.70,591.39" fill="none" stroke="#2f2fe6" stroke-width="1.6" stroke-linejoin="round"/>
<polyline clip-path="url(#clipD)" points="387.00,414.40 387.98,407.07 388.96,400.02 389.95,393.29 390.93,386.89 391.91,380.85 392.89,375.18 393.88,369.90 394.86,365.01 395.84,360.53 396.82,356.45 397.81,352.77 398.79,349.51 399.77,346.64 400.75,344.16 401.74,342.07 402.72,340.36 403.70,339.02 404.68,338.02 405.66,337.37 406.65,337.05 407.63,337.04 408.61,337.33 409.59,337.91 410.58,338.76 411.56,339.86 412.54,341.20 413.52,342.77 414.51,344.55 415.49,346.53 416.47,348.69 417.45,351.02 418.43,353.52 419.42,356.16 420.40,358.93 421.38,361.83 422.36,364.85 423.35,367.96 424.33,371.17 425.31,374.46 426.29,377.83 427.28,381.27 428.26,384.76 429.24,388.31 430.22,391.90 431.21,395.52 432.19,399.18 433.17,402.87 434.15,406.57 435.13,410.29 436.12,414.02 437.10,417.75 438.08,421.48 439.06,425.21 440.05,428.92 441.03,432.63 442.01,436.32 442.99,439.99 443.98,443.64 444.96,447.26 445.94,450.85 446.92,454.41 447.90,457.93 448.89,461.42 449.87,464.87 450.85,468.28 451.83,471.64 452.82,474.96 453.80,478.23 454.78,481.46 455.76,484.63 456.75,487.75 457.73,490.81 458.71,493.82 459.69,496.78 460.68,499.68 461.66,502.52 462.64,505.30 463.62,508.02 464.60,510.68 465.59,513.29 466.57,515.83 467.55,518.31 468.53,520.73 469.52,523.09 470.50,525.39 471.48,527.62 472.46,529.80 473.45,531.92 474.43,533.97 475.41,535.97 476.39,537.91 477.37,539.79 478.36,541.61 479.34,543.37 480.32,545.08 481.30,546.74 482.29,548.34 483.27,549.88 484.25,551.38 485.23,552.82 486.22,554.21 487.20,555.55 488.18,556.85 489.16,558.10 490.15,559.30 491.13,560.46 492.11,561.57 493.09,562.65 494.07,563.68 495.06,564.67 496.04,565.63 497.02,566.54 498.00,567.43 498.99,568.27 499.97,569.09 500.95,569.87 501.93,570.62 502.92,571.33 503.90,572.03 504.88,572.69 505.86,573.32 506.84,573.93 507.83,574.52 508.81,575.08 509.79,575.62 510.77,576.13 511.76,576.63 512.74,577.11 513.72,577.56 514.70,578.00 515.69,578.43 516.67,578.83 517.65,579.22 518.63,579.60 519.62,579.96 520.60,580.31 521.58,580.64 522.56,580.96 523.54,581.28 524.53,581.58 525.51,581.87 526.49,582.15 527.47,582.43 528.46,582.69 529.44,582.95 530.42,583.20 531.40,583.45 532.39,583.69 533.37,583.92 534.35,584.15 535.33,584.41 536.31,584.67 537.30,584.92 538.28,585.15 539.26,585.38 540.24,585.60 541.23,585.81 542.21,586.02 543.19,586.21 544.17,586.40 545.16,586.58 546.14,586.76 547.12,586.93 548.10,587.09 549.09,587.25 550.07,587.40 551.05,587.55 552.03,587.69 553.01,587.82 554.00,587.95 554.98,588.08 555.96,588.20 556.94,588.32 557.93,588.43 558.91,588.54 559.89,588.64 560.87,588.74 561.86,588.84 562.84,588.93 563.82,589.02 564.80,589.11 565.78,589.20 566.77,589.28 567.75,589.35 568.73,589.43 569.71,589.50 570.70,589.57 571.68,589.64 572.66,589.70 573.64,589.76 574.63,589.82 575.61,589.88 576.59,589.94 577.57,589.99 578.56,590.04 579.54,590.09 580.52,590.14 581.50,590.18 582.48,590.23 583.47,590.27 584.45,590.31 585.43,590.35 586.41,590.39 587.40,590.43 588.38,590.46 589.36,590.50 590.34,590.53 591.33,590.56 592.31,590.59 593.29,590.62 594.27,590.65 595.25,590.68 596.24,590.70 597.22,590.73 598.20,590.75 599.18,590.78 600.17,590.80 601.15,590.82 602.13,590.84 603.11,590.86 604.10,590.88 605.08,590.90 606.06,590.92 607.04,590.94 608.02,590.95 609.01,590.97 609.99,590.99 610.97,591.00 611.95,591.02 612.94,591.03 613.92,591.04 614.90,591.06 615.88,591.07 616.87,591.08 617.85,591.09 618.83,591.10 619.81,591.12 620.80,591.13 621.78,591.14 622.76,591.15 623.74,591.15 624.72,591.16 625.71,591.17 626.69,591.18 627.67,591.19 628.65,591.20 629.64,591.20 630.62,591.21 631.60,591.22 632.58,591.22 633.57,591.23 634.55,591.24 635.53,591.24 636.51,591.25 637.50,591.25 638.48,591.26 639.46,591.26 640.44,591.27 641.42,591.27 642.41,591.28 643.39,591.28 644.37,591.29 645.35,591.29 646.34,591.30 647.32,591.30 648.30,591.30 649.28,591.31 650.27,591.31 651.25,591.31 652.23,591.32 653.21,591.32 654.19,591.32 655.18,591.33 656.16,591.33 657.14,591.33 658.12,591.33 659.11,591.34 660.09,591.34 661.07,591.34 662.05,591.34 663.04,591.34 664.02,591.35 665.00,591.35 665.98,591.35 666.97,591.35 667.95,591.35 668.93,591.36 669.91,591.36 670.89,591.36 671.88,591.36 672.86,591.36 673.84,591.36 674.82,591.36 675.81,591.37 676.79,591.37 677.77,591.37 678.75,591.37 679.74,591.37 680.72,591.37 681.70,591.37" fill="none" stroke="#3cf8f8" stroke-width="1.6" stroke-linejoin="round"/>
<path d="M387.0,587.86h4.2 M387.0,584.32h4.2 M387.0,580.78h4.2 M387.0,577.24h4.2 M387.0,570.16h4.2 M387.0,566.62h4.2 M387.0,563.08h4.2 M387.0,559.54h4.2 M387.0,552.46h4.2 M387.0,548.92h4.2 M387.0,545.38h4.2 M387.0,541.84h4.2 M387.0,534.76h4.2 M387.0,531.22h4.2 M387.0,527.68h4.2 M387.0,524.14h4.2 M387.0,517.06h4.2 M387.0,513.52h4.2 M387.0,509.98h4.2 M387.0,506.44h4.2 M387.0,499.36h4.2 M387.0,495.82h4.2 M387.0,492.28h4.2 M387.0,488.74h4.2 M387.0,481.66h4.2 M387.0,478.12h4.2 M387.0,474.58h4.2 M387.0,471.04h4.2 M387.0,463.96h4.2 M387.0,460.42h4.2 M387.0,456.88h4.2 M387.0,453.34h4.2 M387.0,446.26h4.2 M387.0,442.72h4.2 M387.0,439.18h4.2 M387.0,435.64h4.2 M387.0,428.56h4.2 M387.0,425.02h4.2 M387.0,421.48h4.2 M387.0,417.94h4.2 M387.0,410.86h4.2 M387.0,407.32h4.2 M387.0,403.78h4.2 M387.0,400.24h4.2 M387.0,393.16h4.2 M387.0,389.62h4.2 M387.0,386.08h4.2 M387.0,382.54h4.2 M387.0,375.46h4.2 M387.0,371.92h4.2 M387.0,368.38h4.2 M387.0,364.84h4.2 M387.0,357.76h4.2 M387.0,354.22h4.2 M387.0,350.68h4.2 M387.0,347.14h4.2 M387.0,340.06h4.2 M387.0,336.52h4.2 M387.0,332.98h4.2 M387.0,329.44h4.2 M396.82,591.2v-4.2 M406.65,591.2v-4.2 M416.47,591.2v-4.2 M426.29,591.2v-4.2 M445.94,591.2v-4.2 M455.76,591.2v-4.2 M465.59,591.2v-4.2 M475.41,591.2v-4.2 M495.06,591.2v-4.2 M504.88,591.2v-4.2 M514.70,591.2v-4.2 M524.53,591.2v-4.2 M544.17,591.2v-4.2 M554.00,591.2v-4.2 M563.82,591.2v-4.2 M573.64,591.2v-4.2 M593.29,591.2v-4.2 M603.11,591.2v-4.2 M612.94,591.2v-4.2 M622.76,591.2v-4.2 M642.41,591.2v-4.2 M652.23,591.2v-4.2 M662.05,591.2v-4.2 M671.88,591.2v-4.2" stroke="#7a7a7a" stroke-width="0.9" fill="none"/>
<path d="M387.0,573.70h7.0 M387.0,556.00h7.0 M387.0,538.30h7.0 M387.0,520.60h7.0 M387.0,502.90h7.0 M387.0,485.20h7.0 M387.0,467.50h7.0 M387.0,449.80h7.0 M387.0,432.10h7.0 M387.0,414.40h7.0 M387.0,396.70h7.0 M387.0,379.00h7.0 M387.0,361.30h7.0 M387.0,343.60h7.0 M387.0,325.90h7.0 M436.12,591.2v-7.0 M485.23,591.2v-7.0 M534.35,591.2v-7.0 M583.47,591.2v-7.0 M632.58,591.2v-7.0" stroke="#000" stroke-width="1.2" fill="none"/>
<rect x="387.0" y="322.6" width="294.70000000000005" height="268.6" fill="none" stroke="#000" stroke-width="1.4"/>
<text x="382.70" y="595.60" text-anchor="end" class="t">0</text>
<text x="382.70" y="577.90" text-anchor="end" class="t">0.<tspan class="o1">1</tspan></text>
<text x="382.70" y="560.20" text-anchor="end" class="t">0.2</text>
<text x="382.70" y="542.50" text-anchor="end" class="t">0.3</text>
<text x="382.70" y="524.80" text-anchor="end" class="t">0.4</text>
<text x="382.70" y="507.10" text-anchor="end" class="t">0.5</text>
<text x="382.70" y="489.40" text-anchor="end" class="t">0.6</text>
<text x="382.70" y="471.70" text-anchor="end" class="t">0.7</text>
<text x="382.70" y="454.00" text-anchor="end" class="t">0.8</text>
<text x="382.70" y="436.30" text-anchor="end" class="t">0.9</text>
<text x="382.70" y="418.60" text-anchor="end" class="t"><tspan class="o1">1</tspan></text>
<text x="382.70" y="400.90" text-anchor="end" class="t"><tspan class="o1">1</tspan>.<tspan class="o1">1</tspan></text>
<text x="382.70" y="383.20" text-anchor="end" class="t"><tspan class="o1">1</tspan>.2</text>
<text x="382.70" y="365.50" text-anchor="end" class="t"><tspan class="o1">1</tspan>.3</text>
<text x="382.70" y="347.80" text-anchor="end" class="t"><tspan class="o1">1</tspan>.4</text>
<text x="382.70" y="330.10" text-anchor="end" class="t"><tspan class="o1">1</tspan>.5</text>
<text x="387.00" y="602.30" text-anchor="middle" class="t">0</text>
<text x="436.12" y="602.30" text-anchor="middle" class="t"><tspan class="o1">1</tspan></text>
<text x="485.23" y="602.30" text-anchor="middle" class="t">2</text>
<text x="534.35" y="602.30" text-anchor="middle" class="t">3</text>
<text x="583.47" y="602.30" text-anchor="middle" class="t">4</text>
<text x="632.58" y="602.30" text-anchor="middle" class="t">5</text>
<text x="681.70" y="602.30" text-anchor="middle" class="t">6</text>
<text x="534.35" y="615.80" text-anchor="middle" class="ax">η</text>
<text transform="translate(363.70,458.10) rotate(-90)" text-anchor="middle" class="ax"><tspan style="font-size:15px">θ</tspan>(η)</text>
<line x1="220.40" x2="267.50" y1="16.90" y2="16.90" stroke="#d03030" stroke-width="1.6"/>
<text x="272.30" y="20.00" class="lg">Pr = <tspan class="o1">1</tspan>.3</text>
<line x1="220.40" x2="267.50" y1="32.55" y2="32.55" stroke="#16c816" stroke-width="1.6"/>
<text x="272.30" y="35.65" class="lg">Pr = <tspan class="o1">1</tspan>.7</text>
<line x1="220.40" x2="267.50" y1="48.20" y2="48.20" stroke="#2f2fe6" stroke-width="1.6"/>
<text x="272.30" y="51.30" class="lg">Pr = 2.<tspan class="o1">1</tspan></text>
<line x1="220.40" x2="267.50" y1="63.85" y2="63.85" stroke="#3cf8f8" stroke-width="1.6"/>
<text x="272.30" y="66.95" class="lg">Pr = 2.5</text>
<line x1="572.90" x2="620.00" y1="16.90" y2="16.90" stroke="#d03030" stroke-width="1.6"/>
<text x="624.80" y="20.00" class="lg">Rd = <tspan class="o1">1</tspan>%</text>
<line x1="572.90" x2="620.00" y1="32.55" y2="32.55" stroke="#16c816" stroke-width="1.6"/>
<text x="624.80" y="35.65" class="lg">Rd = 2%</text>
<line x1="572.90" x2="620.00" y1="48.20" y2="48.20" stroke="#2f2fe6" stroke-width="1.6"/>
<text x="624.80" y="51.30" class="lg">Rd = 3%</text>
<line x1="572.90" x2="620.00" y1="63.85" y2="63.85" stroke="#3cf8f8" stroke-width="1.6"/>
<text x="624.80" y="66.95" class="lg">Rd = 4%</text>
<line x1="220.40" x2="267.50" y1="334.90" y2="334.90" stroke="#d03030" stroke-width="1.6"/>
<text x="272.30" y="339.50" class="lg">N<tspan class="sub" dy="3.0">t</tspan><tspan dy="-3.0"> = <tspan class="o1">1</tspan>%</tspan></text>
<line x1="220.40" x2="267.50" y1="350.55" y2="350.55" stroke="#16c816" stroke-width="1.6"/>
<text x="272.30" y="355.15" class="lg">N<tspan class="sub" dy="3.0">t</tspan><tspan dy="-3.0"> = 3%</tspan></text>
<line x1="220.40" x2="267.50" y1="366.20" y2="366.20" stroke="#2f2fe6" stroke-width="1.6"/>
<text x="272.30" y="370.80" class="lg">N<tspan class="sub" dy="3.0">t</tspan><tspan dy="-3.0"> = 5%</tspan></text>
<line x1="220.40" x2="267.50" y1="381.85" y2="381.85" stroke="#3cf8f8" stroke-width="1.6"/>
<text x="272.30" y="386.45" class="lg">N<tspan class="sub" dy="3.0">t</tspan><tspan dy="-3.0"> = 7%</tspan></text>
<line x1="572.90" x2="620.00" y1="334.90" y2="334.90" stroke="#d03030" stroke-width="1.6"/>
<text x="624.80" y="339.50" class="lg">N<tspan class="sub" dy="3.0">b</tspan><tspan dy="-3.0"> = 5%</tspan></text>
<line x1="572.90" x2="620.00" y1="350.55" y2="350.55" stroke="#16c816" stroke-width="1.6"/>
<text x="624.80" y="355.15" class="lg">N<tspan class="sub" dy="3.0">b</tspan><tspan dy="-3.0"> = 6%</tspan></text>
<line x1="572.90" x2="620.00" y1="366.20" y2="366.20" stroke="#2f2fe6" stroke-width="1.6"/>
<text x="624.80" y="370.80" class="lg">N<tspan class="sub" dy="3.0">b</tspan><tspan dy="-3.0"> = 7%</tspan></text>
<line x1="572.90" x2="620.00" y1="381.85" y2="381.85" stroke="#3cf8f8" stroke-width="1.6"/>
<text x="624.80" y="386.45" class="lg">N<tspan class="sub" dy="3.0">b</tspan><tspan dy="-3.0"> = 8%</tspan></text>
<text x="64.0" y="24.0" class="pl">[ a ]</text>
<text x="416.6" y="24.0" class="pl">[ b ]</text>
<text x="83.7" y="345.2" class="pl">[ c ]</text>
<text x="436.4" y="345.2" class="pl">[ d ]</text>
<defs><path id="one103" d="M515,0L515,1237L197,1010L197,1180L530,1409L714,1409L714,0Z"/><path id="one100" d="M515,0L515,1237L197,1010L197,1180L530,1409L720,1409L720,0Z"/></defs>
<g fill="#1a1a1a"><use href="#one103" transform="translate(24.41,250) scale(0.005029,-0.005500)"/>
<use href="#one103" transform="translate(24.41,9) scale(0.005029,-0.005500)"/>
<use href="#one103" transform="translate(80.41,284) scale(0.005029,-0.005500)"/>
<use href="#one103" transform="translate(377.41,250) scale(0.005029,-0.005500)"/>
<use href="#one103" transform="translate(377.41,9) scale(0.005029,-0.005500)"/>
<use href="#one103" transform="translate(433.41,284) scale(0.005029,-0.005500)"/>
<use href="#one103" transform="translate(24.41,569) scale(0.005029,-0.005500)"/>
<use href="#one103" transform="translate(24.41,327) scale(0.005029,-0.005500)"/>
<use href="#one103" transform="translate(80.41,602) scale(0.005029,-0.005500)"/>
<use href="#one103" transform="translate(377.41,578) scale(0.005029,-0.005500)"/>
<use href="#one103" transform="translate(377.41,419) scale(0.005029,-0.005500)"/>
<use href="#one103" transform="translate(368.41,401) scale(0.005029,-0.005500)"/>
<use href="#one103" transform="translate(377.41,401) scale(0.005029,-0.005500)"/>
<use href="#one103" transform="translate(368.41,383) scale(0.005029,-0.005500)"/>
<use href="#one103" transform="translate(368.41,366) scale(0.005029,-0.005500)"/>
<use href="#one103" transform="translate(368.41,348) scale(0.005029,-0.005500)"/>
<use href="#one103" transform="translate(368.41,330) scale(0.005029,-0.005500)"/>
<use href="#one103" transform="translate(433.41,602) scale(0.005029,-0.005500)"/>
<use href="#one100" transform="translate(294.49,20) scale(0.004883,-0.005429)"/>
<use href="#one100" transform="translate(294.49,36) scale(0.004883,-0.005429)"/>
<use href="#one100" transform="translate(303.49,51) scale(0.004883,-0.005429)"/>
<use href="#one100" transform="translate(650.49,20) scale(0.004883,-0.005429)"/>
<use href="#one100" transform="translate(293.49,340) scale(0.004883,-0.005429)"/></g>
</svg>
</body></html>
